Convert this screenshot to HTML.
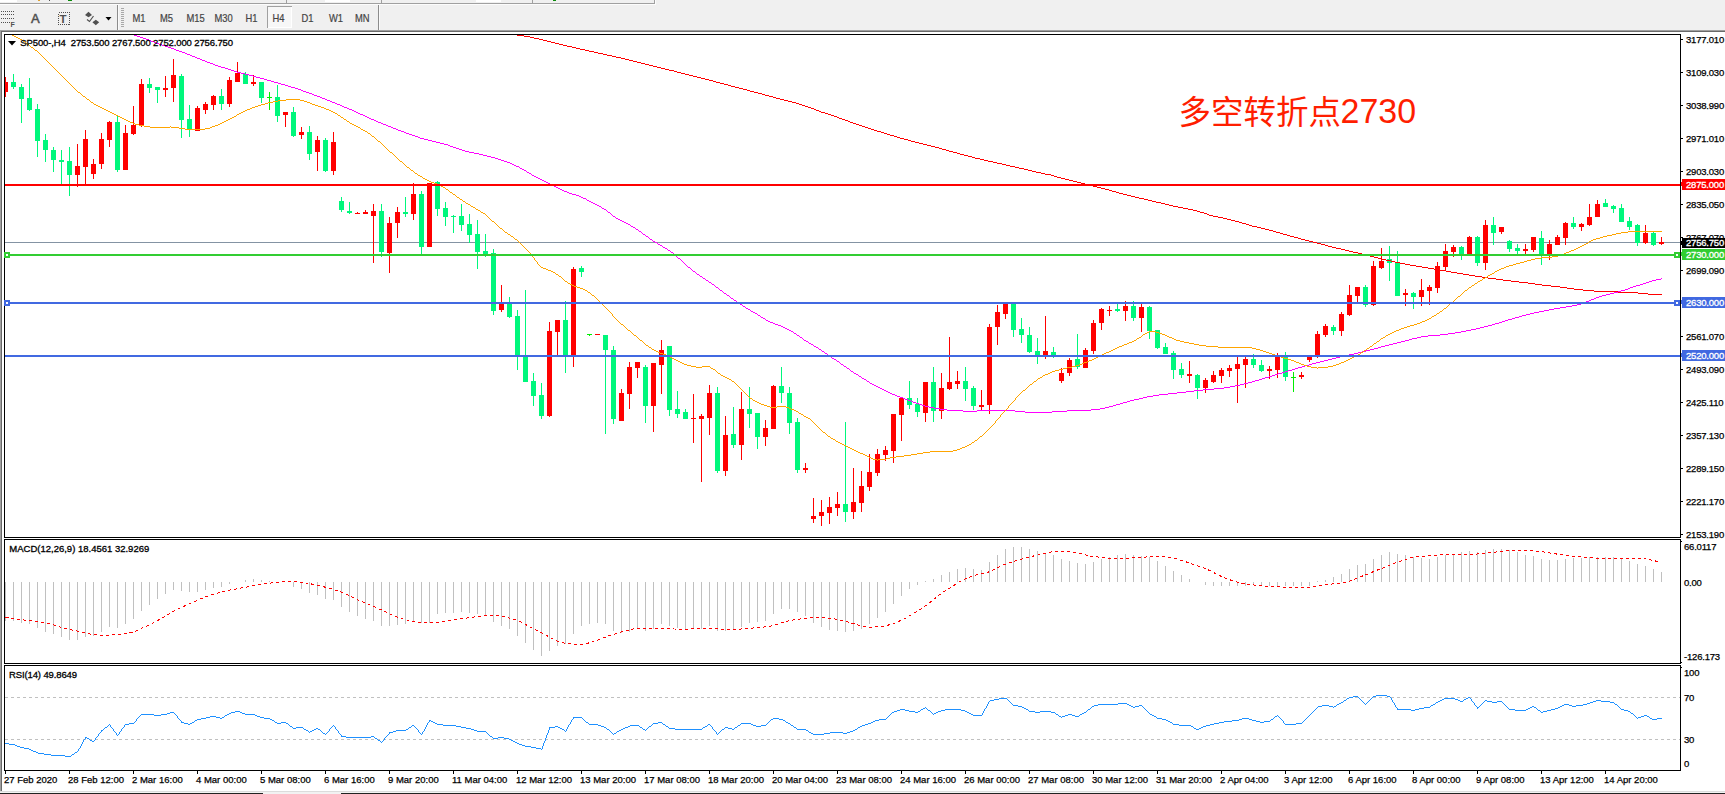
<!DOCTYPE html><html><head><meta charset="utf-8"><title>SP500 H4</title>
<style>html,body{margin:0;padding:0;background:#fff}body{width:1725px;height:794px;overflow:hidden}svg{display:block}text{font-family:"Liberation Sans","Noto Sans CJK SC",sans-serif}.tm{font-size:9.5px;fill:#000;stroke:#000;stroke-width:0.25px}.ax{font-size:9.5px;fill:#000;letter-spacing:-0.2px;stroke:#000;stroke-width:0.25px}.tb{font-size:10.2px;fill:#444;stroke:#444;stroke-width:0.2px}.info{font-size:9.5px;fill:#000;letter-spacing:-0.12px;stroke:#000;stroke-width:0.3px}.lb{font-size:9.5px;fill:#fff;letter-spacing:-0.2px;stroke:#fff;stroke-width:0.3px}</style></head><body>
<svg width="1725" height="794" viewBox="0 0 1725 794" shape-rendering="crispEdges">
<rect x="0" y="0" width="1725" height="794" fill="#fff"/>
<rect x="0" y="0" width="1725" height="30" fill="#f0f0f0"/>
<rect x="0" y="3" width="655" height="1" fill="#a0a0a0"/><rect x="0" y="4" width="656" height="1" fill="#fcfcfc"/><rect x="655" y="0" width="1" height="5" fill="#fcfcfc"/>
<rect x="0" y="0" width="17" height="2" fill="#fff"/><rect x="68" y="0" width="4" height="1" fill="#0a8a0a"/><rect x="38" y="0" width="2" height="1" fill="#e0a030"/><rect x="49" y="0" width="1" height="1" fill="#555"/>
<rect x="286" y="0" width="1" height="3" fill="#a0a0a0"/><rect x="325" y="0" width="25" height="2" fill="#fff"/><rect x="381" y="0" width="1" height="3" fill="#a0a0a0"/><rect x="476" y="0" width="25" height="2" fill="#fff"/><rect x="532" y="0" width="1" height="3" fill="#a0a0a0"/><rect x="553" y="0" width="3" height="1" fill="#0a8a0a"/><rect x="654" y="0" width="1" height="4" fill="#a0a0a0"/>
<rect x="0" y="30" width="1725" height="1" fill="#a0a0a0"/><rect x="0" y="31" width="1725" height="1" fill="#696969"/><rect x="0" y="30" width="1" height="764" fill="#a0a0a0"/><rect x="1" y="31" width="1" height="763" fill="#696969"/>
<rect x="0" y="791" width="1725" height="1" fill="#dcdcdc"/><rect x="0" y="792" width="1725" height="2" fill="#f2f2f2"/><rect x="0" y="793" width="263" height="1" fill="#222"/><rect x="341" y="793" width="1384" height="1" fill="#222"/>
<line x1="1" y1="11.5" x2="15" y2="11.5" stroke="#505050" stroke-width="1" stroke-dasharray="1 1"/>
<line x1="1" y1="14.5" x2="15" y2="14.5" stroke="#505050" stroke-width="1" stroke-dasharray="1 1"/>
<line x1="1" y1="18.5" x2="15" y2="18.5" stroke="#505050" stroke-width="1" stroke-dasharray="1 1"/>
<line x1="1" y1="22.5" x2="10" y2="22.5" stroke="#505050" stroke-width="1" stroke-dasharray="1 1"/>
<text x="10.5" y="26.5" style="font-size:7px;font-weight:bold" fill="#505050">F</text>
<text x="31" y="23" style="font-size:13px;stroke:#505050;stroke-width:0.5px" fill="#505050" shape-rendering="auto">A</text>
<rect x="58.5" y="12.5" width="11" height="12" fill="none" stroke="#505050" stroke-dasharray="1 1"/>
<text x="59.6" y="23" style="font-size:11.5px;font-weight:bold" fill="#505050" shape-rendering="auto">T</text>
<path d="M88.5 11.8 L92 15 L88.5 17.2 L85 15Z M95.8 19.8 L99.2 22.2 L95.8 25.2 L92.4 22.2Z" fill="#505050" shape-rendering="auto"/>
<path d="M87 19.5 L89.5 21.5 L93.5 16" fill="none" stroke="#505050" stroke-width="1.2" shape-rendering="auto"/>
<path d="M105.5 17 L111.5 17 L108.5 20.5Z" fill="#000" shape-rendering="auto"/>
<rect x="117" y="5" width="1" height="25" fill="#8c8c8c"/><rect x="118" y="5" width="1" height="25" fill="#fafafa"/>
<rect x="121" y="8" width="3" height="1" fill="#a8a8a8"/>
<rect x="121" y="10" width="3" height="1" fill="#a8a8a8"/>
<rect x="121" y="12" width="3" height="1" fill="#a8a8a8"/>
<rect x="121" y="14" width="3" height="1" fill="#a8a8a8"/>
<rect x="121" y="16" width="3" height="1" fill="#a8a8a8"/>
<rect x="121" y="18" width="3" height="1" fill="#a8a8a8"/>
<rect x="121" y="20" width="3" height="1" fill="#a8a8a8"/>
<rect x="121" y="22" width="3" height="1" fill="#a8a8a8"/>
<rect x="121" y="24" width="3" height="1" fill="#a8a8a8"/>
<rect x="121" y="26" width="3" height="1" fill="#a8a8a8"/>
<rect x="267" y="6" width="25" height="22" fill="#f7f7f7"/><rect x="267" y="6" width="25" height="1" fill="#a0a0a0"/><rect x="267" y="6" width="1" height="22" fill="#a0a0a0"/><rect x="291" y="7" width="1" height="21" fill="#fff"/><rect x="268" y="27" width="24" height="1" fill="#fff"/>
<text class="tb" transform="translate(132.5,21.7) scale(0.92,1)">M1</text>
<text class="tb" transform="translate(160,21.7) scale(0.92,1)">M5</text>
<text class="tb" transform="translate(186.5,21.7) scale(0.92,1)">M15</text>
<text class="tb" transform="translate(214.5,21.7) scale(0.92,1)">M30</text>
<text class="tb" transform="translate(245.5,21.7) scale(0.92,1)">H1</text>
<text class="tb" transform="translate(272.5,21.7) scale(0.92,1)">H4</text>
<text class="tb" transform="translate(301.5,21.7) scale(0.92,1)">D1</text>
<text class="tb" transform="translate(329,21.7) scale(0.92,1)">W1</text>
<text class="tb" transform="translate(355,21.7) scale(0.92,1)">MN</text>
<rect x="378" y="5" width="1" height="25" fill="#8c8c8c"/><rect x="379" y="5" width="1" height="25" fill="#fafafa"/>
<rect x="4" y="34" width="1677" height="1" fill="#000"/>
<rect x="4" y="34" width="1" height="504" fill="#000"/>
<rect x="1680" y="34" width="1" height="504" fill="#000"/>
<rect x="4" y="537" width="1677" height="1" fill="#000"/>
<rect x="4" y="539" width="1677" height="1" fill="#000"/>
<rect x="4" y="539" width="1" height="125" fill="#000"/>
<rect x="1680" y="539" width="1" height="125" fill="#000"/>
<rect x="4" y="663" width="1677" height="1" fill="#000"/>
<rect x="4" y="665" width="1677" height="1" fill="#000"/>
<rect x="4" y="665" width="1" height="106" fill="#000"/>
<rect x="1680" y="665" width="1" height="106" fill="#000"/>
<rect x="4" y="770" width="1677" height="1" fill="#000"/>
<clipPath id="cm"><rect x="5" y="35" width="1675" height="502"/></clipPath>
<g clip-path="url(#cm)">
<rect x="5" y="242" width="1675" height="1" fill="#8493a3"/>
<rect x="5" y="77" width="1" height="20" fill="#ff0000"/>
<rect x="3" y="82" width="5" height="10" fill="#ff0000"/>
<rect x="13" y="74" width="1" height="15" fill="#00f77c"/>
<rect x="11" y="82" width="5" height="5" fill="#00f77c"/>
<rect x="21" y="84" width="1" height="39" fill="#00f77c"/>
<rect x="19" y="87" width="5" height="12" fill="#00f77c"/>
<rect x="29" y="78" width="1" height="33" fill="#00f77c"/>
<rect x="27" y="98" width="5" height="12" fill="#00f77c"/>
<rect x="37" y="104" width="1" height="53" fill="#00f77c"/>
<rect x="35" y="109" width="5" height="32" fill="#00f77c"/>
<rect x="45" y="134" width="1" height="28" fill="#00f77c"/>
<rect x="43" y="140" width="5" height="10" fill="#00f77c"/>
<rect x="53" y="147" width="1" height="25" fill="#00f77c"/>
<rect x="51" y="150" width="5" height="10" fill="#00f77c"/>
<rect x="61" y="150" width="1" height="34" fill="#00f77c"/>
<rect x="59" y="160" width="5" height="2" fill="#00f77c"/>
<rect x="69" y="147" width="1" height="49" fill="#00f77c"/>
<rect x="67" y="161" width="5" height="14" fill="#00f77c"/>
<rect x="77" y="144" width="1" height="43" fill="#ff0000"/>
<rect x="75" y="166" width="5" height="9" fill="#ff0000"/>
<rect x="85" y="130" width="1" height="54" fill="#ff0000"/>
<rect x="83" y="139" width="5" height="28" fill="#ff0000"/>
<rect x="93" y="159" width="1" height="20" fill="#ff0000"/>
<rect x="91" y="164" width="5" height="10" fill="#ff0000"/>
<rect x="101" y="133" width="1" height="36" fill="#ff0000"/>
<rect x="99" y="139" width="5" height="25" fill="#ff0000"/>
<rect x="109" y="121" width="1" height="26" fill="#ff0000"/>
<rect x="107" y="122" width="5" height="18" fill="#ff0000"/>
<rect x="117" y="115" width="1" height="57" fill="#00f77c"/>
<rect x="115" y="122" width="5" height="48" fill="#00f77c"/>
<rect x="125" y="125" width="1" height="45" fill="#ff0000"/>
<rect x="123" y="133" width="5" height="37" fill="#ff0000"/>
<rect x="133" y="106" width="1" height="29" fill="#ff0000"/>
<rect x="131" y="125" width="5" height="9" fill="#ff0000"/>
<rect x="141" y="79" width="1" height="48" fill="#ff0000"/>
<rect x="139" y="84" width="5" height="41" fill="#ff0000"/>
<rect x="149" y="78" width="1" height="15" fill="#00f77c"/>
<rect x="147" y="84" width="5" height="4" fill="#00f77c"/>
<rect x="157" y="87" width="1" height="16" fill="#00f77c"/>
<rect x="155" y="87" width="5" height="3" fill="#00f77c"/>
<rect x="165" y="76" width="1" height="21" fill="#ff0000"/>
<rect x="163" y="88" width="5" height="2" fill="#ff0000"/>
<rect x="173" y="59" width="1" height="43" fill="#ff0000"/>
<rect x="171" y="75" width="5" height="13" fill="#ff0000"/>
<rect x="181" y="74" width="1" height="64" fill="#00f77c"/>
<rect x="179" y="76" width="5" height="44" fill="#00f77c"/>
<rect x="189" y="105" width="1" height="32" fill="#00f77c"/>
<rect x="187" y="119" width="5" height="10" fill="#00f77c"/>
<rect x="197" y="106" width="1" height="25" fill="#ff0000"/>
<rect x="195" y="108" width="5" height="23" fill="#ff0000"/>
<rect x="205" y="102" width="1" height="12" fill="#ff0000"/>
<rect x="203" y="104" width="5" height="6" fill="#ff0000"/>
<rect x="213" y="95" width="1" height="15" fill="#ff0000"/>
<rect x="211" y="96" width="5" height="9" fill="#ff0000"/>
<rect x="221" y="89" width="1" height="21" fill="#00f77c"/>
<rect x="219" y="96" width="5" height="8" fill="#00f77c"/>
<rect x="229" y="77" width="1" height="30" fill="#ff0000"/>
<rect x="227" y="80" width="5" height="24" fill="#ff0000"/>
<rect x="237" y="62" width="1" height="20" fill="#ff0000"/>
<rect x="235" y="73" width="5" height="9" fill="#ff0000"/>
<rect x="245" y="72" width="1" height="12" fill="#00f77c"/>
<rect x="243" y="74" width="5" height="10" fill="#00f77c"/>
<rect x="253" y="75" width="1" height="11" fill="#ff0000"/>
<rect x="251" y="82" width="5" height="2" fill="#ff0000"/>
<rect x="261" y="82" width="1" height="21" fill="#00f77c"/>
<rect x="259" y="82" width="5" height="16" fill="#00f77c"/>
<rect x="269" y="92" width="1" height="18" fill="#00ee00"/>
<rect x="267" y="97" width="5" height="1" fill="#00ee00"/>
<rect x="277" y="85" width="1" height="37" fill="#00f77c"/>
<rect x="275" y="97" width="5" height="19" fill="#00f77c"/>
<rect x="285" y="112" width="1" height="15" fill="#ff0000"/>
<rect x="283" y="112" width="5" height="3" fill="#ff0000"/>
<rect x="293" y="107" width="1" height="30" fill="#00f77c"/>
<rect x="291" y="112" width="5" height="24" fill="#00f77c"/>
<rect x="301" y="127" width="1" height="12" fill="#ff0000"/>
<rect x="299" y="132" width="5" height="3" fill="#ff0000"/>
<rect x="309" y="126" width="1" height="34" fill="#00f77c"/>
<rect x="307" y="132" width="5" height="22" fill="#00f77c"/>
<rect x="317" y="136" width="1" height="35" fill="#ff0000"/>
<rect x="315" y="140" width="5" height="12" fill="#ff0000"/>
<rect x="325" y="138" width="1" height="34" fill="#00f77c"/>
<rect x="323" y="140" width="5" height="31" fill="#00f77c"/>
<rect x="333" y="132" width="1" height="43" fill="#ff0000"/>
<rect x="331" y="142" width="5" height="29" fill="#ff0000"/>
<rect x="341" y="197" width="1" height="15" fill="#00f77c"/>
<rect x="339" y="201" width="5" height="9" fill="#00f77c"/>
<rect x="349" y="202" width="1" height="12" fill="#00f77c"/>
<rect x="347" y="211" width="5" height="2" fill="#00f77c"/>
<rect x="357" y="212" width="1" height="2" fill="#ff0000"/>
<rect x="355" y="213" width="5" height="1" fill="#ff0000"/>
<rect x="365" y="210" width="1" height="4" fill="#ff0000"/>
<rect x="363" y="212" width="5" height="2" fill="#ff0000"/>
<rect x="373" y="204" width="1" height="59" fill="#ff0000"/>
<rect x="371" y="211" width="5" height="5" fill="#ff0000"/>
<rect x="381" y="204" width="1" height="53" fill="#00f77c"/>
<rect x="379" y="211" width="5" height="41" fill="#00f77c"/>
<rect x="389" y="217" width="1" height="56" fill="#ff0000"/>
<rect x="387" y="223" width="5" height="30" fill="#ff0000"/>
<rect x="397" y="207" width="1" height="31" fill="#ff0000"/>
<rect x="395" y="212" width="5" height="11" fill="#ff0000"/>
<rect x="405" y="197" width="1" height="20" fill="#00f77c"/>
<rect x="403" y="212" width="5" height="2" fill="#00f77c"/>
<rect x="413" y="183" width="1" height="37" fill="#ff0000"/>
<rect x="411" y="194" width="5" height="20" fill="#ff0000"/>
<rect x="421" y="191" width="1" height="63" fill="#00f77c"/>
<rect x="419" y="194" width="5" height="53" fill="#00f77c"/>
<rect x="429" y="183" width="1" height="64" fill="#ff0000"/>
<rect x="427" y="183" width="5" height="64" fill="#ff0000"/>
<rect x="437" y="181" width="1" height="35" fill="#00f77c"/>
<rect x="435" y="182" width="5" height="27" fill="#00f77c"/>
<rect x="445" y="202" width="1" height="24" fill="#00f77c"/>
<rect x="443" y="208" width="5" height="9" fill="#00f77c"/>
<rect x="453" y="215" width="1" height="18" fill="#00f77c"/>
<rect x="451" y="216" width="5" height="1" fill="#00f77c"/>
<rect x="461" y="204" width="1" height="27" fill="#00f77c"/>
<rect x="459" y="216" width="5" height="9" fill="#00f77c"/>
<rect x="469" y="214" width="1" height="29" fill="#00f77c"/>
<rect x="467" y="224" width="5" height="11" fill="#00f77c"/>
<rect x="477" y="220" width="1" height="49" fill="#00f77c"/>
<rect x="475" y="234" width="5" height="18" fill="#00f77c"/>
<rect x="485" y="234" width="1" height="23" fill="#00f77c"/>
<rect x="483" y="251" width="5" height="4" fill="#00f77c"/>
<rect x="493" y="249" width="1" height="66" fill="#00f77c"/>
<rect x="491" y="253" width="5" height="58" fill="#00f77c"/>
<rect x="501" y="285" width="1" height="27" fill="#ff0000"/>
<rect x="499" y="304" width="5" height="6" fill="#ff0000"/>
<rect x="509" y="297" width="1" height="21" fill="#00f77c"/>
<rect x="507" y="304" width="5" height="13" fill="#00f77c"/>
<rect x="517" y="310" width="1" height="60" fill="#00f77c"/>
<rect x="515" y="316" width="5" height="39" fill="#00f77c"/>
<rect x="525" y="290" width="1" height="92" fill="#00f77c"/>
<rect x="523" y="355" width="5" height="27" fill="#00f77c"/>
<rect x="533" y="373" width="1" height="33" fill="#00f77c"/>
<rect x="531" y="381" width="5" height="15" fill="#00f77c"/>
<rect x="541" y="383" width="1" height="36" fill="#00f77c"/>
<rect x="539" y="395" width="5" height="21" fill="#00f77c"/>
<rect x="549" y="322" width="1" height="95" fill="#ff0000"/>
<rect x="547" y="331" width="5" height="85" fill="#ff0000"/>
<rect x="557" y="320" width="1" height="35" fill="#ff0000"/>
<rect x="555" y="320" width="5" height="12" fill="#ff0000"/>
<rect x="565" y="301" width="1" height="72" fill="#00f77c"/>
<rect x="563" y="320" width="5" height="36" fill="#00f77c"/>
<rect x="573" y="267" width="1" height="100" fill="#ff0000"/>
<rect x="571" y="269" width="5" height="87" fill="#ff0000"/>
<rect x="581" y="266" width="1" height="11" fill="#00f77c"/>
<rect x="579" y="268" width="5" height="4" fill="#00f77c"/>
<rect x="589" y="334" width="1" height="2" fill="#00ee00"/>
<rect x="587" y="334" width="5" height="1" fill="#00ee00"/>
<rect x="597" y="334" width="1" height="1" fill="#ff0000"/>
<rect x="595" y="334" width="5" height="1" fill="#ff0000"/>
<rect x="605" y="335" width="1" height="99" fill="#00f77c"/>
<rect x="603" y="335" width="5" height="15" fill="#00f77c"/>
<rect x="613" y="346" width="1" height="78" fill="#00f77c"/>
<rect x="611" y="350" width="5" height="69" fill="#00f77c"/>
<rect x="621" y="389" width="1" height="32" fill="#ff0000"/>
<rect x="619" y="393" width="5" height="28" fill="#ff0000"/>
<rect x="629" y="362" width="1" height="47" fill="#ff0000"/>
<rect x="627" y="367" width="5" height="27" fill="#ff0000"/>
<rect x="637" y="362" width="1" height="16" fill="#ff0000"/>
<rect x="635" y="362" width="5" height="6" fill="#ff0000"/>
<rect x="645" y="365" width="1" height="58" fill="#00f77c"/>
<rect x="643" y="367" width="5" height="39" fill="#00f77c"/>
<rect x="653" y="363" width="1" height="69" fill="#ff0000"/>
<rect x="651" y="363" width="5" height="43" fill="#ff0000"/>
<rect x="661" y="340" width="1" height="54" fill="#ff0000"/>
<rect x="659" y="350" width="5" height="15" fill="#ff0000"/>
<rect x="669" y="346" width="1" height="70" fill="#00f77c"/>
<rect x="667" y="346" width="5" height="64" fill="#00f77c"/>
<rect x="677" y="391" width="1" height="27" fill="#00f77c"/>
<rect x="675" y="409" width="5" height="5" fill="#00f77c"/>
<rect x="685" y="409" width="1" height="10" fill="#00f77c"/>
<rect x="683" y="412" width="5" height="7" fill="#00f77c"/>
<rect x="693" y="394" width="1" height="49" fill="#ff0000"/>
<rect x="691" y="418" width="5" height="1" fill="#ff0000"/>
<rect x="701" y="414" width="1" height="68" fill="#ff0000"/>
<rect x="699" y="416" width="5" height="3" fill="#ff0000"/>
<rect x="709" y="385" width="1" height="50" fill="#ff0000"/>
<rect x="707" y="393" width="5" height="25" fill="#ff0000"/>
<rect x="717" y="387" width="1" height="86" fill="#00f77c"/>
<rect x="715" y="393" width="5" height="78" fill="#00f77c"/>
<rect x="725" y="416" width="1" height="60" fill="#ff0000"/>
<rect x="723" y="435" width="5" height="36" fill="#ff0000"/>
<rect x="733" y="407" width="1" height="41" fill="#00f77c"/>
<rect x="731" y="434" width="5" height="11" fill="#00f77c"/>
<rect x="741" y="392" width="1" height="68" fill="#ff0000"/>
<rect x="739" y="409" width="5" height="36" fill="#ff0000"/>
<rect x="749" y="387" width="1" height="41" fill="#00f77c"/>
<rect x="747" y="409" width="5" height="5" fill="#00f77c"/>
<rect x="757" y="413" width="1" height="36" fill="#00f77c"/>
<rect x="755" y="413" width="5" height="24" fill="#00f77c"/>
<rect x="765" y="420" width="1" height="26" fill="#ff0000"/>
<rect x="763" y="428" width="5" height="9" fill="#ff0000"/>
<rect x="773" y="385" width="1" height="44" fill="#ff0000"/>
<rect x="771" y="386" width="5" height="43" fill="#ff0000"/>
<rect x="781" y="367" width="1" height="36" fill="#00f77c"/>
<rect x="779" y="386" width="5" height="7" fill="#00f77c"/>
<rect x="789" y="387" width="1" height="47" fill="#00f77c"/>
<rect x="787" y="393" width="5" height="30" fill="#00f77c"/>
<rect x="797" y="418" width="1" height="55" fill="#00f77c"/>
<rect x="795" y="422" width="5" height="48" fill="#00f77c"/>
<rect x="805" y="463" width="1" height="10" fill="#ff0000"/>
<rect x="803" y="468" width="5" height="2" fill="#ff0000"/>
<rect x="813" y="498" width="1" height="25" fill="#ff0000"/>
<rect x="811" y="516" width="5" height="3" fill="#ff0000"/>
<rect x="821" y="500" width="1" height="26" fill="#ff0000"/>
<rect x="819" y="512" width="5" height="4" fill="#ff0000"/>
<rect x="829" y="497" width="1" height="27" fill="#ff0000"/>
<rect x="827" y="507" width="5" height="6" fill="#ff0000"/>
<rect x="837" y="492" width="1" height="24" fill="#ff0000"/>
<rect x="835" y="504" width="5" height="4" fill="#ff0000"/>
<rect x="845" y="422" width="1" height="100" fill="#00f77c"/>
<rect x="843" y="504" width="5" height="8" fill="#00f77c"/>
<rect x="853" y="468" width="1" height="51" fill="#ff0000"/>
<rect x="851" y="502" width="5" height="10" fill="#ff0000"/>
<rect x="861" y="471" width="1" height="41" fill="#ff0000"/>
<rect x="859" y="486" width="5" height="17" fill="#ff0000"/>
<rect x="869" y="454" width="1" height="37" fill="#ff0000"/>
<rect x="867" y="472" width="5" height="15" fill="#ff0000"/>
<rect x="877" y="449" width="1" height="27" fill="#ff0000"/>
<rect x="875" y="454" width="5" height="19" fill="#ff0000"/>
<rect x="885" y="446" width="1" height="15" fill="#ff0000"/>
<rect x="883" y="450" width="5" height="5" fill="#ff0000"/>
<rect x="893" y="414" width="1" height="49" fill="#ff0000"/>
<rect x="891" y="414" width="5" height="37" fill="#ff0000"/>
<rect x="901" y="397" width="1" height="44" fill="#ff0000"/>
<rect x="899" y="398" width="5" height="17" fill="#ff0000"/>
<rect x="909" y="381" width="1" height="28" fill="#00f77c"/>
<rect x="907" y="398" width="5" height="7" fill="#00f77c"/>
<rect x="917" y="398" width="1" height="19" fill="#00f77c"/>
<rect x="915" y="404" width="5" height="8" fill="#00f77c"/>
<rect x="925" y="382" width="1" height="40" fill="#ff0000"/>
<rect x="923" y="382" width="5" height="31" fill="#ff0000"/>
<rect x="933" y="367" width="1" height="55" fill="#00f77c"/>
<rect x="931" y="382" width="5" height="29" fill="#00f77c"/>
<rect x="941" y="373" width="1" height="46" fill="#ff0000"/>
<rect x="939" y="388" width="5" height="23" fill="#ff0000"/>
<rect x="949" y="337" width="1" height="53" fill="#ff0000"/>
<rect x="947" y="382" width="5" height="7" fill="#ff0000"/>
<rect x="957" y="371" width="1" height="18" fill="#ff0000"/>
<rect x="955" y="381" width="5" height="3" fill="#ff0000"/>
<rect x="965" y="367" width="1" height="34" fill="#00f77c"/>
<rect x="963" y="381" width="5" height="8" fill="#00f77c"/>
<rect x="973" y="386" width="1" height="24" fill="#00f77c"/>
<rect x="971" y="388" width="5" height="18" fill="#00f77c"/>
<rect x="981" y="390" width="1" height="20" fill="#ff0000"/>
<rect x="979" y="405" width="5" height="2" fill="#ff0000"/>
<rect x="989" y="324" width="1" height="90" fill="#ff0000"/>
<rect x="987" y="327" width="5" height="78" fill="#ff0000"/>
<rect x="997" y="305" width="1" height="40" fill="#ff0000"/>
<rect x="995" y="312" width="5" height="15" fill="#ff0000"/>
<rect x="1005" y="303" width="1" height="16" fill="#ff0000"/>
<rect x="1003" y="303" width="5" height="11" fill="#ff0000"/>
<rect x="1013" y="303" width="1" height="34" fill="#00f77c"/>
<rect x="1011" y="303" width="5" height="27" fill="#00f77c"/>
<rect x="1021" y="318" width="1" height="25" fill="#00f77c"/>
<rect x="1019" y="329" width="5" height="6" fill="#00f77c"/>
<rect x="1029" y="327" width="1" height="26" fill="#00f77c"/>
<rect x="1027" y="335" width="5" height="17" fill="#00f77c"/>
<rect x="1037" y="338" width="1" height="26" fill="#00f77c"/>
<rect x="1035" y="351" width="5" height="4" fill="#00f77c"/>
<rect x="1045" y="316" width="1" height="43" fill="#ff0000"/>
<rect x="1043" y="351" width="5" height="4" fill="#ff0000"/>
<rect x="1053" y="347" width="1" height="11" fill="#00f77c"/>
<rect x="1051" y="352" width="5" height="3" fill="#00f77c"/>
<rect x="1061" y="368" width="1" height="15" fill="#ff0000"/>
<rect x="1059" y="373" width="5" height="8" fill="#ff0000"/>
<rect x="1069" y="358" width="1" height="18" fill="#ff0000"/>
<rect x="1067" y="360" width="5" height="13" fill="#ff0000"/>
<rect x="1077" y="334" width="1" height="35" fill="#00f77c"/>
<rect x="1075" y="359" width="5" height="8" fill="#00f77c"/>
<rect x="1085" y="348" width="1" height="20" fill="#ff0000"/>
<rect x="1083" y="350" width="5" height="18" fill="#ff0000"/>
<rect x="1093" y="320" width="1" height="34" fill="#ff0000"/>
<rect x="1091" y="323" width="5" height="28" fill="#ff0000"/>
<rect x="1101" y="308" width="1" height="22" fill="#ff0000"/>
<rect x="1099" y="309" width="5" height="14" fill="#ff0000"/>
<rect x="1109" y="306" width="1" height="10" fill="#ff0000"/>
<rect x="1107" y="310" width="5" height="1" fill="#ff0000"/>
<rect x="1117" y="303" width="1" height="9" fill="#00f77c"/>
<rect x="1115" y="309" width="5" height="2" fill="#00f77c"/>
<rect x="1125" y="301" width="1" height="20" fill="#ff0000"/>
<rect x="1123" y="306" width="5" height="5" fill="#ff0000"/>
<rect x="1133" y="301" width="1" height="20" fill="#00f77c"/>
<rect x="1131" y="306" width="5" height="12" fill="#00f77c"/>
<rect x="1141" y="303" width="1" height="29" fill="#ff0000"/>
<rect x="1139" y="307" width="5" height="11" fill="#ff0000"/>
<rect x="1149" y="306" width="1" height="33" fill="#00f77c"/>
<rect x="1147" y="307" width="5" height="24" fill="#00f77c"/>
<rect x="1157" y="330" width="1" height="19" fill="#00f77c"/>
<rect x="1155" y="330" width="5" height="18" fill="#00f77c"/>
<rect x="1165" y="343" width="1" height="11" fill="#00f77c"/>
<rect x="1163" y="347" width="5" height="7" fill="#00f77c"/>
<rect x="1173" y="351" width="1" height="28" fill="#00f77c"/>
<rect x="1171" y="353" width="5" height="17" fill="#00f77c"/>
<rect x="1181" y="363" width="1" height="15" fill="#00f77c"/>
<rect x="1179" y="369" width="5" height="6" fill="#00f77c"/>
<rect x="1189" y="361" width="1" height="22" fill="#ff0000"/>
<rect x="1187" y="374" width="5" height="2" fill="#ff0000"/>
<rect x="1197" y="374" width="1" height="25" fill="#00f77c"/>
<rect x="1195" y="375" width="5" height="13" fill="#00f77c"/>
<rect x="1205" y="378" width="1" height="15" fill="#ff0000"/>
<rect x="1203" y="380" width="5" height="8" fill="#ff0000"/>
<rect x="1213" y="371" width="1" height="12" fill="#ff0000"/>
<rect x="1211" y="375" width="5" height="7" fill="#ff0000"/>
<rect x="1221" y="368" width="1" height="15" fill="#ff0000"/>
<rect x="1219" y="370" width="5" height="6" fill="#ff0000"/>
<rect x="1229" y="365" width="1" height="12" fill="#ff0000"/>
<rect x="1227" y="368" width="5" height="3" fill="#ff0000"/>
<rect x="1237" y="356" width="1" height="47" fill="#ff0000"/>
<rect x="1235" y="364" width="5" height="5" fill="#ff0000"/>
<rect x="1245" y="356" width="1" height="32" fill="#ff0000"/>
<rect x="1243" y="359" width="5" height="6" fill="#ff0000"/>
<rect x="1253" y="354" width="1" height="14" fill="#00f77c"/>
<rect x="1251" y="359" width="5" height="6" fill="#00f77c"/>
<rect x="1261" y="360" width="1" height="12" fill="#00f77c"/>
<rect x="1259" y="365" width="5" height="6" fill="#00f77c"/>
<rect x="1269" y="366" width="1" height="13" fill="#ff0000"/>
<rect x="1267" y="369" width="5" height="2" fill="#ff0000"/>
<rect x="1277" y="353" width="1" height="25" fill="#ff0000"/>
<rect x="1275" y="356" width="5" height="14" fill="#ff0000"/>
<rect x="1285" y="352" width="1" height="29" fill="#00f77c"/>
<rect x="1283" y="357" width="5" height="20" fill="#00f77c"/>
<rect x="1293" y="372" width="1" height="20" fill="#00ee00"/>
<rect x="1291" y="377" width="5" height="1" fill="#00ee00"/>
<rect x="1301" y="372" width="1" height="7" fill="#ff0000"/>
<rect x="1299" y="375" width="5" height="2" fill="#ff0000"/>
<rect x="1309" y="357" width="1" height="5" fill="#ff0000"/>
<rect x="1307" y="357" width="5" height="3" fill="#ff0000"/>
<rect x="1317" y="331" width="1" height="27" fill="#ff0000"/>
<rect x="1315" y="334" width="5" height="23" fill="#ff0000"/>
<rect x="1325" y="324" width="1" height="13" fill="#ff0000"/>
<rect x="1323" y="326" width="5" height="9" fill="#ff0000"/>
<rect x="1333" y="325" width="1" height="10" fill="#00f77c"/>
<rect x="1331" y="327" width="5" height="4" fill="#00f77c"/>
<rect x="1341" y="312" width="1" height="24" fill="#ff0000"/>
<rect x="1339" y="314" width="5" height="17" fill="#ff0000"/>
<rect x="1349" y="285" width="1" height="31" fill="#ff0000"/>
<rect x="1347" y="295" width="5" height="20" fill="#ff0000"/>
<rect x="1357" y="287" width="1" height="15" fill="#ff0000"/>
<rect x="1355" y="287" width="5" height="9" fill="#ff0000"/>
<rect x="1365" y="285" width="1" height="22" fill="#00f77c"/>
<rect x="1363" y="287" width="5" height="18" fill="#00f77c"/>
<rect x="1373" y="261" width="1" height="45" fill="#ff0000"/>
<rect x="1371" y="266" width="5" height="39" fill="#ff0000"/>
<rect x="1381" y="248" width="1" height="21" fill="#ff0000"/>
<rect x="1379" y="261" width="5" height="7" fill="#ff0000"/>
<rect x="1389" y="246" width="1" height="35" fill="#00f77c"/>
<rect x="1387" y="259" width="5" height="4" fill="#00f77c"/>
<rect x="1397" y="251" width="1" height="45" fill="#00f77c"/>
<rect x="1395" y="263" width="5" height="33" fill="#00f77c"/>
<rect x="1405" y="289" width="1" height="17" fill="#ff0000"/>
<rect x="1403" y="293" width="5" height="2" fill="#ff0000"/>
<rect x="1413" y="292" width="1" height="17" fill="#00f77c"/>
<rect x="1411" y="293" width="5" height="4" fill="#00f77c"/>
<rect x="1421" y="279" width="1" height="27" fill="#ff0000"/>
<rect x="1419" y="290" width="5" height="7" fill="#ff0000"/>
<rect x="1429" y="285" width="1" height="20" fill="#ff0000"/>
<rect x="1427" y="287" width="5" height="4" fill="#ff0000"/>
<rect x="1437" y="262" width="1" height="31" fill="#ff0000"/>
<rect x="1435" y="266" width="5" height="22" fill="#ff0000"/>
<rect x="1445" y="244" width="1" height="26" fill="#ff0000"/>
<rect x="1443" y="251" width="5" height="16" fill="#ff0000"/>
<rect x="1453" y="245" width="1" height="12" fill="#ff0000"/>
<rect x="1451" y="247" width="5" height="5" fill="#ff0000"/>
<rect x="1461" y="246" width="1" height="14" fill="#00f77c"/>
<rect x="1459" y="247" width="5" height="8" fill="#00f77c"/>
<rect x="1469" y="236" width="1" height="19" fill="#ff0000"/>
<rect x="1467" y="237" width="5" height="18" fill="#ff0000"/>
<rect x="1477" y="236" width="1" height="30" fill="#00f77c"/>
<rect x="1475" y="237" width="5" height="26" fill="#00f77c"/>
<rect x="1485" y="220" width="1" height="50" fill="#ff0000"/>
<rect x="1483" y="225" width="5" height="38" fill="#ff0000"/>
<rect x="1493" y="217" width="1" height="28" fill="#00f77c"/>
<rect x="1491" y="225" width="5" height="8" fill="#00f77c"/>
<rect x="1501" y="227" width="1" height="7" fill="#ff0000"/>
<rect x="1499" y="227" width="5" height="5" fill="#ff0000"/>
<rect x="1509" y="240" width="1" height="12" fill="#00f77c"/>
<rect x="1507" y="241" width="5" height="8" fill="#00f77c"/>
<rect x="1517" y="244" width="1" height="10" fill="#00f77c"/>
<rect x="1515" y="248" width="5" height="3" fill="#00f77c"/>
<rect x="1525" y="244" width="1" height="10" fill="#ff0000"/>
<rect x="1523" y="249" width="5" height="2" fill="#ff0000"/>
<rect x="1533" y="237" width="1" height="15" fill="#ff0000"/>
<rect x="1531" y="237" width="5" height="13" fill="#ff0000"/>
<rect x="1541" y="231" width="1" height="34" fill="#00f77c"/>
<rect x="1539" y="238" width="5" height="17" fill="#00f77c"/>
<rect x="1549" y="240" width="1" height="20" fill="#ff0000"/>
<rect x="1547" y="244" width="5" height="11" fill="#ff0000"/>
<rect x="1557" y="235" width="1" height="10" fill="#ff0000"/>
<rect x="1555" y="237" width="5" height="8" fill="#ff0000"/>
<rect x="1565" y="222" width="1" height="23" fill="#ff0000"/>
<rect x="1563" y="223" width="5" height="15" fill="#ff0000"/>
<rect x="1573" y="217" width="1" height="12" fill="#00f77c"/>
<rect x="1571" y="223" width="5" height="4" fill="#00f77c"/>
<rect x="1581" y="223" width="1" height="8" fill="#ff0000"/>
<rect x="1579" y="224" width="5" height="3" fill="#ff0000"/>
<rect x="1589" y="204" width="1" height="22" fill="#ff0000"/>
<rect x="1587" y="217" width="5" height="8" fill="#ff0000"/>
<rect x="1597" y="200" width="1" height="17" fill="#ff0000"/>
<rect x="1595" y="204" width="5" height="13" fill="#ff0000"/>
<rect x="1605" y="199" width="1" height="8" fill="#00f77c"/>
<rect x="1603" y="203" width="5" height="4" fill="#00f77c"/>
<rect x="1613" y="205" width="1" height="8" fill="#00f77c"/>
<rect x="1611" y="206" width="5" height="3" fill="#00f77c"/>
<rect x="1621" y="204" width="1" height="18" fill="#00f77c"/>
<rect x="1619" y="208" width="5" height="14" fill="#00f77c"/>
<rect x="1629" y="217" width="1" height="13" fill="#00f77c"/>
<rect x="1627" y="221" width="5" height="6" fill="#00f77c"/>
<rect x="1637" y="224" width="1" height="22" fill="#00f77c"/>
<rect x="1635" y="225" width="5" height="18" fill="#00f77c"/>
<rect x="1645" y="225" width="1" height="19" fill="#ff0000"/>
<rect x="1643" y="233" width="5" height="10" fill="#ff0000"/>
<rect x="1653" y="232" width="1" height="14" fill="#00f77c"/>
<rect x="1651" y="233" width="5" height="12" fill="#00f77c"/>
<rect x="1661" y="237" width="1" height="8" fill="#ff0000"/>
<rect x="1659" y="242" width="5" height="2" fill="#ff0000"/>
<path d="M514 34v1M515 34v1M516 34v1M517 35v1M518 35v1M519 35v1M520 35v1M521 35v1M522 35v1M523 35v1M524 36v1M525 36v1M526 36v1M527 36v1M528 36v1M529 36v1M530 37v1M531 37v1M532 37v1M533 37v1M534 38v1M535 38v1M536 38v1M537 38v1M538 38v1M539 39v1M540 39v1M541 39v1M542 39v1M543 40v1M544 40v1M545 40v1M546 40v1M547 41v1M548 41v1M549 41v1M550 41v1M551 42v1M552 42v1M553 42v1M554 42v1M555 43v1M556 43v1M557 43v1M558 43v1M559 44v1M560 44v1M561 44v1M562 44v1M563 45v1M564 45v1M565 45v1M566 45v1M567 46v1M568 46v1M569 46v1M570 46v1M571 46v1M572 47v1M573 47v1M574 47v1M575 47v1M576 48v1M577 48v1M578 48v1M579 48v1M580 49v1M581 49v1M582 49v1M583 49v1M584 49v1M585 50v1M586 50v1M587 50v1M588 50v1M589 51v1M590 51v1M591 51v1M592 51v1M593 51v1M594 52v1M595 52v1M596 52v1M597 52v1M598 53v1M599 53v1M600 53v1M601 53v1M602 53v1M603 54v1M604 54v1M605 54v1M606 54v1M607 55v1M608 55v1M609 55v1M610 55v1M611 55v1M612 56v1M613 56v1M614 56v1M615 56v1M616 57v1M617 57v1M618 57v1M619 57v1M620 57v1M621 58v1M622 58v1M623 58v1M624 58v1M625 59v1M626 59v1M627 59v1M628 59v1M629 60v1M630 60v1M631 60v1M632 60v1M633 61v1M634 61v1M635 61v1M636 61v1M637 62v1M638 62v1M639 62v1M640 62v1M641 63v1M642 63v1M643 63v1M644 63v1M645 64v1M646 64v1M647 64v1M648 64v1M649 65v1M650 65v1M651 65v1M652 65v1M653 66v1M654 66v1M655 66v1M656 66v1M657 67v1M658 67v1M659 67v1M660 67v1M661 68v1M662 68v1M663 68v1M664 68v1M665 69v1M666 69v1M667 69v1M668 69v1M669 70v1M670 70v1M671 70v1M672 70v1M673 70v1M674 71v1M675 71v1M676 71v1M677 72v1M678 72v1M679 72v1M680 72v1M681 73v1M682 73v1M683 73v1M684 73v1M685 74v1M686 74v1M687 74v1M688 74v1M689 75v1M690 75v1M691 75v1M692 75v1M693 76v1M694 76v1M695 76v1M696 76v1M697 77v1M698 77v1M699 77v1M700 77v1M701 78v1M702 78v1M703 78v1M704 78v1M705 79v1M706 79v1M707 79v1M708 79v1M709 80v1M710 80v1M711 80v1M712 80v1M713 81v1M714 81v1M715 81v1M716 82v1M717 82v1M718 82v1M719 82v1M720 83v1M721 83v1M722 83v1M723 83v1M724 84v1M725 84v1M726 84v1M727 84v1M728 85v1M729 85v1M730 85v1M731 86v1M732 86v1M733 86v1M734 86v1M735 87v1M736 87v1M737 87v1M738 87v1M739 88v1M740 88v1M741 88v1M742 88v1M743 89v1M744 89v1M745 89v1M746 89v1M747 90v1M748 90v1M749 90v1M750 91v1M751 91v1M752 91v1M753 91v1M754 92v1M755 92v1M756 92v1M757 92v1M758 93v1M759 93v1M760 93v1M761 93v1M762 94v1M763 94v1M764 94v1M765 95v1M766 95v1M767 95v1M768 95v1M769 96v1M770 96v1M771 96v1M772 96v1M773 97v1M774 97v1M775 97v1M776 98v1M777 98v1M778 98v1M779 98v1M780 99v1M781 99v1M782 99v1M783 99v1M784 100v1M785 100v1M786 100v1M787 100v1M788 101v1M789 101v1M790 101v1M791 101v1M792 102v1M793 102v1M794 102v1M795 102v1M796 103v1M797 103v1M798 103v1M799 104v1M800 104v1M801 104v1M802 105v1M803 105v1M804 105v1M805 106v1M806 106v1M807 106v1M808 107v1M809 107v1M810 107v1M811 108v1M812 108v1M813 108v1M814 109v1M815 109v1M816 110v1M817 110v1M818 110v1M819 111v1M820 111v1M821 112v1M822 112v1M823 112v1M824 112v1M825 113v1M826 113v1M827 113v1M828 114v1M829 114v1M830 114v1M831 115v1M832 115v1M833 115v1M834 116v1M835 116v1M836 116v1M837 117v1M838 117v1M839 118v1M840 118v1M841 118v1M842 119v1M843 119v1M844 119v1M845 120v1M846 120v1M847 120v1M848 121v1M849 121v1M850 122v1M851 122v1M852 122v1M853 123v1M854 123v1M855 123v1M856 124v1M857 124v1M858 124v1M859 125v1M860 125v1M861 125v1M862 126v1M863 126v1M864 126v1M865 127v1M866 127v1M867 127v1M868 128v1M869 128v1M870 128v1M871 129v1M872 129v1M873 129v1M874 130v1M875 130v1M876 130v1M877 131v1M878 131v1M879 131v1M880 131v1M881 132v1M882 132v1M883 132v1M884 133v1M885 133v1M886 133v1M887 134v1M888 134v1M889 134v1M890 135v1M891 135v1M892 135v1M893 135v1M894 136v1M895 136v1M896 136v1M897 137v1M898 137v1M899 137v1M900 138v1M901 138v1M902 138v1M903 138v1M904 139v1M905 139v1M906 139v1M907 139v1M908 140v1M909 140v1M910 140v1M911 141v1M912 141v1M913 141v1M914 141v1M915 142v1M916 142v1M917 142v1M918 142v1M919 143v1M920 143v1M921 143v1M922 143v1M923 144v1M924 144v1M925 144v1M926 144v1M927 145v1M928 145v1M929 145v1M930 145v1M931 146v1M932 146v1M933 146v1M934 146v1M935 147v1M936 147v1M937 147v1M938 147v1M939 148v1M940 148v1M941 148v1M942 149v1M943 149v1M944 149v1M945 149v1M946 150v1M947 150v1M948 150v1M949 151v1M950 151v1M951 151v1M952 151v1M953 152v1M954 152v1M955 152v1M956 152v1M957 153v1M958 153v1M959 153v1M960 154v1M961 154v1M962 154v1M963 154v1M964 155v1M965 155v1M966 155v1M967 155v1M968 156v1M969 156v1M970 156v1M971 156v1M972 157v1M973 157v1M974 157v1M975 158v1M976 158v1M977 158v1M978 158v1M979 158v1M980 159v1M981 159v1M982 159v1M983 159v1M984 160v1M985 160v1M986 160v1M987 160v1M988 161v1M989 161v1M990 161v1M991 161v1M992 161v1M993 162v1M994 162v1M995 162v1M996 162v1M997 163v1M998 163v1M999 163v1M1000 163v1M1001 163v1M1002 164v1M1003 164v1M1004 164v1M1005 164v1M1006 165v1M1007 165v1M1008 165v1M1009 165v1M1010 166v1M1011 166v1M1012 166v1M1013 166v1M1014 166v1M1015 167v1M1016 167v1M1017 167v1M1018 167v1M1019 168v1M1020 168v1M1021 168v1M1022 168v1M1023 168v1M1024 169v1M1025 169v1M1026 169v1M1027 169v1M1028 170v1M1029 170v1M1030 170v1M1031 170v1M1032 171v1M1033 171v1M1034 171v1M1035 171v1M1036 172v1M1037 172v1M1038 172v1M1039 172v1M1040 172v1M1041 173v1M1042 173v1M1043 173v1M1044 173v1M1045 174v1M1046 174v1M1047 174v1M1048 174v1M1049 174v1M1050 174v1M1051 175v1M1052 175v1M1053 175v1M1054 176v1M1055 176v1M1056 176v1M1057 177v1M1058 177v1M1059 177v1M1060 177v1M1061 178v1M1062 178v1M1063 178v1M1064 178v1M1065 179v1M1066 179v1M1067 179v1M1068 179v1M1069 180v1M1070 180v1M1071 180v1M1072 180v1M1073 181v1M1074 181v1M1075 181v1M1076 181v1M1077 182v1M1078 182v1M1079 182v1M1080 182v1M1081 183v1M1082 183v1M1083 183v1M1084 183v1M1085 184v1M1086 184v1M1087 184v1M1088 184v1M1089 185v1M1090 185v1M1091 185v1M1092 185v1M1093 186v1M1094 186v1M1095 186v1M1096 186v1M1097 187v1M1098 187v1M1099 187v1M1100 187v1M1101 188v1M1102 188v1M1103 188v1M1104 188v1M1105 189v1M1106 189v1M1107 189v1M1108 189v1M1109 190v1M1110 190v1M1111 190v1M1112 191v1M1113 191v1M1114 191v1M1115 191v1M1116 192v1M1117 192v1M1118 192v1M1119 193v1M1120 193v1M1121 193v1M1122 193v1M1123 194v1M1124 194v1M1125 194v1M1126 194v1M1127 195v1M1128 195v1M1129 195v1M1130 195v1M1131 196v1M1132 196v1M1133 196v1M1134 196v1M1135 197v1M1136 197v1M1137 197v1M1138 197v1M1139 198v1M1140 198v1M1141 198v1M1142 198v1M1143 198v1M1144 199v1M1145 199v1M1146 199v1M1147 199v1M1148 200v1M1149 200v1M1150 200v1M1151 200v1M1152 201v1M1153 201v1M1154 201v1M1155 201v1M1156 202v1M1157 202v1M1158 202v1M1159 202v1M1160 202v1M1161 203v1M1162 203v1M1163 203v1M1164 203v1M1165 204v1M1166 204v1M1167 204v1M1168 204v1M1169 205v1M1170 205v1M1171 205v1M1172 205v1M1173 206v1M1174 206v1M1175 206v1M1176 206v1M1177 206v1M1178 207v1M1179 207v1M1180 207v1M1181 207v1M1182 207v1M1183 208v1M1184 208v1M1185 208v1M1186 208v1M1187 208v1M1188 209v1M1189 209v1M1190 209v1M1191 209v1M1192 209v1M1193 210v1M1194 210v1M1195 210v1M1196 210v1M1197 211v1M1198 211v1M1199 211v1M1200 212v1M1201 212v1M1202 212v1M1203 212v1M1204 213v1M1205 213v1M1206 213v1M1207 214v1M1208 214v1M1209 215v1M1210 215v1M1211 215v1M1212 215v1M1213 216v1M1214 216v1M1215 216v1M1216 216v1M1217 216v1M1218 217v1M1219 217v1M1220 217v1M1221 217v1M1222 217v1M1223 218v1M1224 218v1M1225 218v1M1226 218v1M1227 219v1M1228 219v1M1229 219v1M1230 219v1M1231 220v1M1232 220v1M1233 220v1M1234 220v1M1235 221v1M1236 221v1M1237 221v1M1238 221v1M1239 222v1M1240 222v1M1241 222v1M1242 223v1M1243 223v1M1244 223v1M1245 223v1M1246 224v1M1247 224v1M1248 224v1M1249 225v1M1250 225v1M1251 225v1M1252 226v1M1253 226v1M1254 226v1M1255 226v1M1256 226v1M1257 227v1M1258 227v1M1259 227v1M1260 227v1M1261 228v1M1262 228v1M1263 228v1M1264 228v1M1265 229v1M1266 229v1M1267 229v1M1268 229v1M1269 230v1M1270 230v1M1271 230v1M1272 230v1M1273 231v1M1274 231v1M1275 231v1M1276 232v1M1277 232v1M1278 232v1M1279 232v1M1280 233v1M1281 233v1M1282 233v1M1283 234v1M1284 234v1M1285 234v1M1286 234v1M1287 235v1M1288 235v1M1289 235v1M1290 236v1M1291 236v1M1292 236v1M1293 236v1M1294 237v1M1295 237v1M1296 237v1M1297 237v1M1298 238v1M1299 238v1M1300 238v1M1301 239v1M1302 239v1M1303 239v1M1304 239v1M1305 240v1M1306 240v1M1307 240v1M1308 240v1M1309 241v1M1310 241v1M1311 241v1M1312 241v1M1313 242v1M1314 242v1M1315 242v1M1316 242v1M1317 243v1M1318 243v1M1319 243v1M1320 243v1M1321 244v1M1322 244v1M1323 244v1M1324 244v1M1325 245v1M1326 245v1M1327 245v1M1328 246v1M1329 246v1M1330 246v1M1331 246v1M1332 247v1M1333 247v1M1334 247v1M1335 247v1M1336 248v1M1337 248v1M1338 248v1M1339 248v1M1340 248v1M1341 249v1M1342 249v1M1343 249v1M1344 249v1M1345 250v1M1346 250v1M1347 250v1M1348 250v1M1349 251v1M1350 251v1M1351 251v1M1352 251v1M1353 252v1M1354 252v1M1355 252v1M1356 252v1M1357 252v1M1358 253v1M1359 253v1M1360 253v1M1361 253v1M1362 254v1M1363 254v1M1364 254v1M1365 254v1M1366 255v1M1367 255v1M1368 255v1M1369 255v1M1370 256v1M1371 256v1M1372 256v1M1373 256v1M1374 257v1M1375 257v1M1376 257v1M1377 257v1M1378 258v1M1379 258v1M1380 258v1M1381 258v1M1382 259v1M1383 259v1M1384 259v1M1385 259v1M1386 260v1M1387 260v1M1388 260v1M1389 260v1M1390 260v1M1391 261v1M1392 261v1M1393 261v1M1394 261v1M1395 262v1M1396 262v1M1397 262v1M1398 262v1M1399 262v1M1400 263v1M1401 263v1M1402 263v1M1403 263v1M1404 263v1M1405 264v1M1406 264v1M1407 264v1M1408 264v1M1409 264v1M1410 265v1M1411 265v1M1412 265v1M1413 265v1M1414 265v1M1415 265v1M1416 266v1M1417 266v1M1418 266v1M1419 266v1M1420 266v1M1421 266v1M1422 267v1M1423 267v1M1424 267v1M1425 267v1M1426 267v1M1427 267v1M1428 268v1M1429 268v1M1430 268v1M1431 268v1M1432 268v1M1433 268v1M1434 269v1M1435 269v1M1436 269v1M1437 269v1M1438 269v1M1439 269v1M1440 270v1M1441 270v1M1442 270v1M1443 270v1M1444 270v1M1445 270v1M1446 271v1M1447 271v1M1448 271v1M1449 271v1M1450 271v1M1451 272v1M1452 272v1M1453 272v1M1454 272v1M1455 272v1M1456 272v1M1457 273v1M1458 273v1M1459 273v1M1460 273v1M1461 273v1M1462 273v1M1463 274v1M1464 274v1M1465 274v1M1466 274v1M1467 274v1M1468 274v1M1469 275v1M1470 275v1M1471 275v1M1472 275v1M1473 275v1M1474 275v1M1475 276v1M1476 276v1M1477 276v1M1478 276v1M1479 276v1M1480 276v1M1481 276v1M1482 277v1M1483 277v1M1484 277v1M1485 277v1M1486 277v1M1487 277v1M1488 278v1M1489 278v1M1490 278v1M1491 278v1M1492 278v1M1493 278v1M1494 278v1M1495 278v1M1496 279v1M1497 279v1M1498 279v1M1499 279v1M1500 279v1M1501 279v1M1502 279v1M1503 280v1M1504 280v1M1505 280v1M1506 280v1M1507 280v1M1508 280v1M1509 280v1M1510 280v1M1511 281v1M1512 281v1M1513 281v1M1514 281v1M1515 281v1M1516 281v1M1517 281v1M1518 281v1M1519 282v1M1520 282v1M1521 282v1M1522 282v1M1523 282v1M1524 282v1M1525 282v1M1526 282v1M1527 282v1M1528 283v1M1529 283v1M1530 283v1M1531 283v1M1532 283v1M1533 283v1M1534 283v1M1535 284v1M1536 284v1M1537 284v1M1538 284v1M1539 284v1M1540 284v1M1541 284v1M1542 285v1M1543 285v1M1544 285v1M1545 285v1M1546 285v1M1547 285v1M1548 285v1M1549 285v1M1550 285v1M1551 286v1M1552 286v1M1553 286v1M1554 286v1M1555 286v1M1556 286v1M1557 286v1M1558 286v1M1559 286v1M1560 287v1M1561 287v1M1562 287v1M1563 287v1M1564 287v1M1565 287v1M1566 287v1M1567 288v1M1568 288v1M1569 288v1M1570 288v1M1571 288v1M1572 288v1M1573 288v1M1574 289v1M1575 289v1M1576 289v1M1577 289v1M1578 289v1M1579 289v1M1580 289v1M1581 289v1M1582 289v1M1583 290v1M1584 290v1M1585 290v1M1586 290v1M1587 290v1M1588 290v1M1589 290v1M1590 290v1M1591 290v1M1592 290v1M1593 290v1M1594 291v1M1595 291v1M1596 291v1M1597 291v1M1598 291v1M1599 291v1M1600 291v1M1601 291v1M1602 291v1M1603 291v1M1604 291v1M1605 291v1M1606 291v1M1607 291v1M1608 291v1M1609 291v1M1610 291v1M1611 291v1M1612 291v1M1613 291v1M1614 291v1M1615 291v1M1616 291v1M1617 291v1M1618 292v1M1619 292v1M1620 292v1M1621 292v1M1622 292v1M1623 292v1M1624 292v1M1625 292v1M1626 292v1M1627 292v1M1628 292v1M1629 292v1M1630 292v1M1631 292v1M1632 292v1M1633 292v1M1634 292v1M1635 292v1M1636 292v1M1637 292v1M1638 293v1M1639 293v1M1640 293v1M1641 293v1M1642 293v1M1643 293v1M1644 293v1M1645 293v1M1646 293v1M1647 293v1M1648 294v1M1649 294v1M1650 294v1M1651 294v1M1652 294v1M1653 294v1M1654 294v1M1655 294v1M1656 294v1M1657 294v1M1658 294v1M1659 294v1M1660 294v1M1661 294v1" fill="none" stroke="#ff0000" stroke-width="1" transform="translate(0.5,0)"/>
<path d="M132 34v1M133 34v1M134 35v1M135 35v1M136 35v1M137 36v1M138 36v1M139 36v1M140 37v1M141 37v1M142 37v1M143 38v1M144 38v1M145 38v1M146 39v1M147 39v1M148 39v1M149 40v1M150 40v1M151 41v1M152 41v1M153 41v1M154 42v1M155 42v1M156 43v1M157 43v1M158 43v1M159 44v1M160 44v1M161 44v1M162 45v1M163 45v1M164 45v1M165 46v1M166 46v1M167 46v1M168 47v1M169 47v1M170 47v1M171 48v1M172 48v1M173 48v1M174 49v1M175 49v1M176 50v1M177 50v1M178 50v1M179 51v1M180 51v1M181 51v1M182 52v1M183 52v1M184 52v1M185 53v1M186 53v1M187 54v1M188 54v1M189 54v1M190 55v1M191 55v1M192 56v1M193 56v1M194 56v1M195 57v1M196 57v1M197 58v1M198 58v1M199 58v1M200 59v1M201 59v1M202 60v1M203 60v1M204 60v1M205 61v1M206 61v1M207 62v1M208 62v1M209 62v1M210 63v1M211 63v1M212 63v1M213 64v1M214 64v1M215 65v1M216 65v1M217 65v1M218 66v1M219 66v1M220 66v1M221 67v1M222 67v1M223 67v1M224 67v1M225 68v1M226 68v1M227 68v1M228 69v1M229 69v1M230 69v1M231 70v1M232 70v1M233 70v1M234 71v1M235 71v1M236 71v1M237 72v1M238 72v1M239 72v1M240 72v1M241 73v1M242 73v1M243 73v1M244 73v1M245 74v1M246 74v1M247 74v1M248 74v1M249 75v1M250 75v1M251 75v1M252 75v1M253 76v1M254 76v1M255 76v1M256 77v1M257 77v1M258 77v1M259 77v1M260 78v1M261 78v1M262 78v1M263 78v1M264 79v1M265 79v1M266 79v1M267 80v1M268 80v1M269 80v1M270 80v1M271 81v1M272 81v1M273 81v1M274 82v1M275 82v1M276 82v1M277 82v1M278 83v1M279 83v1M280 83v1M281 84v1M282 84v1M283 84v1M284 84v1M285 85v1M286 85v1M287 85v1M288 86v1M289 86v1M290 86v1M291 87v1M292 87v1M293 87v1M294 87v1M295 88v1M296 88v1M297 88v1M298 89v1M299 89v1M300 89v1M301 90v1M302 90v1M303 91v1M304 91v1M305 91v1M306 92v1M307 92v1M308 92v1M309 93v1M310 93v1M311 93v1M312 94v1M313 94v1M314 95v1M315 95v1M316 95v1M317 96v1M318 96v1M319 96v1M320 97v1M321 97v1M322 98v1M323 98v1M324 98v1M325 99v1M326 99v1M327 100v1M328 100v1M329 100v1M330 101v1M331 101v1M332 102v1M333 102v1M334 102v1M335 103v1M336 103v1M337 104v1M338 104v1M339 104v1M340 105v1M341 105v1M342 106v1M343 106v1M344 107v1M345 107v1M346 107v1M347 108v1M348 108v1M349 109v1M350 109v1M351 109v1M352 110v1M353 110v1M354 111v1M355 111v1M356 112v1M357 112v1M358 113v1M359 113v1M360 114v1M361 114v1M362 114v1M363 115v1M364 115v1M365 116v1M366 116v1M367 117v1M368 117v1M369 118v1M370 118v1M371 119v1M372 119v1M373 119v1M374 120v1M375 120v1M376 121v1M377 121v1M378 122v1M379 122v1M380 122v1M381 123v1M382 123v1M383 124v1M384 124v1M385 124v1M386 125v1M387 125v1M388 126v1M389 126v1M390 126v1M391 127v1M392 127v1M393 128v1M394 128v1M395 128v1M396 129v1M397 129v1M398 130v1M399 130v1M400 130v1M401 131v1M402 131v1M403 131v1M404 132v1M405 132v1M406 133v1M407 133v1M408 133v1M409 134v1M410 134v1M411 134v1M412 135v1M413 135v1M414 135v1M415 136v1M416 136v1M417 136v1M418 137v1M419 137v1M420 138v1M421 138v1M422 138v1M423 138v1M424 139v1M425 139v1M426 139v1M427 139v1M428 140v1M429 140v1M430 140v1M431 140v1M432 141v1M433 141v1M434 141v1M435 141v1M436 142v1M437 142v1M438 142v1M439 142v1M440 143v1M441 143v1M442 143v1M443 143v1M444 144v1M445 144v1M446 144v1M447 144v1M448 145v1M449 145v1M450 146v1M451 146v1M452 146v1M453 147v1M454 147v1M455 147v1M456 148v1M457 148v1M458 148v1M459 149v1M460 149v1M461 149v1M462 150v1M463 150v1M464 150v1M465 151v1M466 151v1M467 151v1M468 151v1M469 152v1M470 152v1M471 152v1M472 152v1M473 152v1M474 153v1M475 153v1M476 153v1M477 153v1M478 153v1M479 154v1M480 154v1M481 154v1M482 154v1M483 155v1M484 155v1M485 155v1M486 155v1M487 156v1M488 156v1M489 156v1M490 156v1M491 157v1M492 157v1M493 157v1M494 157v1M495 158v1M496 158v1M497 158v1M498 159v1M499 159v1M500 159v1M501 160v1M502 160v1M503 160v1M504 161v1M505 161v1M506 161v1M507 162v1M508 162v1M509 162v1M510 163v1M511 163v1M512 164v1M513 164v1M514 165v1M515 165v1M516 166v1M517 166v1M518 166v1M519 167v1M520 168v1M521 168v1M522 169v1M523 169v1M524 170v1M525 170v1M526 171v1M527 172v1M528 172v1M529 173v1M530 173v1M531 174v1M532 175v1M533 175v1M534 176v1M535 176v1M536 177v1M537 177v1M538 178v1M539 178v1M540 179v1M541 179v1M542 180v1M543 180v1M544 181v1M545 181v1M546 182v1M547 182v1M548 183v1M549 183v1M550 184v1M551 184v1M552 185v1M553 185v1M554 186v1M555 186v1M556 187v1M557 187v1M558 188v1M559 188v1M560 189v1M561 189v1M562 190v1M563 190v1M564 191v1M565 191v1M566 191v1M567 192v1M568 192v1M569 193v1M570 193v1M571 193v1M572 194v1M573 194v1M574 194v1M575 194v1M576 195v1M577 195v1M578 195v1M579 196v1M580 196v1M581 197v1M582 197v1M583 198v1M584 198v1M585 198v1M586 199v1M587 200v1M588 200v1M589 201v1M590 201v1M591 202v1M592 202v1M593 203v1M594 203v1M595 204v1M596 204v1M597 205v1M598 205v1M599 206v1M600 206v1M601 207v1M602 208v1M603 208v1M604 209v1M605 209v1M606 210v1M607 211v1M608 212v1M609 212v1M610 213v1M611 214v1M612 215v1M613 216v1M614 216v1M615 217v1M616 218v1M617 218v1M618 219v1M619 219v1M620 220v1M621 220v1M622 221v1M623 221v1M624 222v1M625 222v1M626 223v1M627 223v1M628 224v1M629 224v1M630 225v1M631 226v1M632 226v1M633 227v1M634 227v1M635 228v1M636 229v1M637 229v1M638 230v1M639 231v1M640 231v1M641 232v1M642 233v1M643 234v1M644 234v1M645 235v1M646 236v1M647 236v1M648 237v1M649 238v1M650 239v1M651 239v1M652 240v1M653 241v1M654 241v1M655 242v1M656 242v1M657 243v1M658 244v1M659 244v1M660 245v1M661 245v1M662 246v1M663 247v1M664 247v1M665 248v1M666 248v1M667 249v1M668 250v1M669 250v1M670 251v1M671 252v1M672 252v1M673 253v1M674 254v1M675 255v1M676 256v1M677 257v1M678 258v1M679 258v1M680 259v1M681 260v1M682 261v1M683 262v1M684 263v1M685 264v1M686 265v1M687 266v1M688 267v1M689 267v1M690 268v1M691 269v1M692 270v1M693 271v1M694 271v1M695 272v1M696 273v1M697 274v1M698 274v1M699 275v1M700 276v1M701 276v1M702 277v1M703 278v1M704 278v1M705 279v1M706 280v1M707 280v1M708 281v1M709 282v1M710 282v1M711 283v1M712 284v1M713 284v1M714 285v1M715 286v1M716 287v1M717 287v1M718 288v1M719 289v1M720 290v1M721 290v1M722 291v1M723 292v1M724 293v1M725 293v1M726 294v1M727 295v1M728 295v1M729 296v1M730 297v1M731 298v1M732 298v1M733 299v1M734 300v1M735 300v1M736 301v1M737 302v1M738 302v1M739 303v1M740 304v1M741 304v1M742 305v1M743 306v1M744 306v1M745 307v1M746 308v1M747 308v1M748 309v1M749 309v1M750 310v1M751 311v1M752 311v1M753 312v1M754 312v1M755 313v1M756 313v1M757 314v1M758 315v1M759 315v1M760 316v1M761 317v1M762 317v1M763 318v1M764 318v1M765 319v1M766 320v1M767 320v1M768 321v1M769 321v1M770 322v1M771 322v1M772 322v1M773 323v1M774 323v1M775 324v1M776 324v1M777 324v1M778 325v1M779 325v1M780 325v1M781 326v1M782 326v1M783 327v1M784 327v1M785 328v1M786 328v1M787 329v1M788 329v1M789 330v1M790 330v1M791 331v1M792 331v1M793 332v1M794 333v1M795 333v1M796 334v1M797 335v1M798 335v1M799 336v1M800 337v1M801 337v1M802 338v1M803 339v1M804 340v1M805 340v1M806 341v1M807 341v1M808 342v1M809 343v1M810 343v1M811 344v1M812 344v1M813 345v1M814 346v1M815 346v1M816 347v1M817 347v1M818 348v1M819 349v1M820 349v1M821 350v1M822 351v1M823 351v1M824 352v1M825 353v1M826 353v1M827 354v1M828 355v1M829 355v1M830 356v1M831 357v1M832 358v1M833 358v1M834 359v1M835 359v1M836 360v1M837 361v1M838 361v1M839 362v1M840 363v1M841 364v1M842 364v1M843 365v1M844 366v1M845 366v1M846 367v1M847 368v1M848 368v1M849 369v1M850 370v1M851 371v1M852 371v1M853 372v1M854 373v1M855 373v1M856 374v1M857 374v1M858 375v1M859 376v1M860 376v1M861 377v1M862 378v1M863 378v1M864 379v1M865 379v1M866 380v1M867 381v1M868 381v1M869 382v1M870 383v1M871 383v1M872 384v1M873 384v1M874 385v1M875 385v1M876 386v1M877 386v1M878 387v1M879 387v1M880 388v1M881 388v1M882 389v1M883 389v1M884 390v1M885 390v1M886 391v1M887 391v1M888 392v1M889 392v1M890 393v1M891 393v1M892 394v1M893 394v1M894 394v1M895 395v1M896 395v1M897 396v1M898 396v1M899 396v1M900 397v1M901 397v1M902 397v1M903 398v1M904 398v1M905 399v1M906 399v1M907 399v1M908 400v1M909 400v1M910 400v1M911 401v1M912 401v1M913 402v1M914 402v1M915 402v1M916 403v1M917 403v1M918 403v1M919 404v1M920 404v1M921 404v1M922 405v1M923 405v1M924 405v1M925 406v1M926 406v1M927 406v1M928 406v1M929 407v1M930 407v1M931 407v1M932 407v1M933 407v1M934 408v1M935 408v1M936 408v1M937 408v1M938 408v1M939 408v1M940 409v1M941 409v1M942 409v1M943 409v1M944 409v1M945 409v1M946 409v1M947 410v1M948 410v1M949 410v1M950 410v1M951 410v1M952 410v1M953 410v1M954 410v1M955 410v1M956 410v1M957 410v1M958 410v1M959 410v1M960 410v1M961 410v1M962 410v1M963 411v1M964 411v1M965 411v1M966 411v1M967 411v1M968 411v1M969 411v1M970 411v1M971 411v1M972 411v1M973 411v1M974 411v1M975 411v1M976 411v1M977 410v1M978 410v1M979 410v1M980 410v1M981 410v1M982 410v1M983 410v1M984 410v1M985 410v1M986 410v1M987 410v1M988 410v1M989 410v1M990 410v1M991 410v1M992 410v1M993 410v1M994 410v1M995 410v1M996 410v1M997 410v1M998 410v1M999 410v1M1000 410v1M1001 410v1M1002 410v1M1003 410v1M1004 410v1M1005 410v1M1006 410v1M1007 410v1M1008 410v1M1009 410v1M1010 410v1M1011 410v1M1012 410v1M1013 410v1M1014 410v1M1015 411v1M1016 411v1M1017 411v1M1018 411v1M1019 411v1M1020 411v1M1021 411v1M1022 411v1M1023 411v1M1024 411v1M1025 412v1M1026 412v1M1027 412v1M1028 412v1M1029 412v1M1030 412v1M1031 412v1M1032 412v1M1033 412v1M1034 412v1M1035 412v1M1036 412v1M1037 412v1M1038 412v1M1039 412v1M1040 412v1M1041 412v1M1042 412v1M1043 412v1M1044 412v1M1045 412v1M1046 412v1M1047 412v1M1048 412v1M1049 412v1M1050 412v1M1051 412v1M1052 411v1M1053 411v1M1054 411v1M1055 411v1M1056 411v1M1057 411v1M1058 411v1M1059 411v1M1060 411v1M1061 411v1M1062 411v1M1063 411v1M1064 411v1M1065 411v1M1066 411v1M1067 410v1M1068 410v1M1069 410v1M1070 410v1M1071 410v1M1072 410v1M1073 410v1M1074 410v1M1075 410v1M1076 410v1M1077 410v1M1078 410v1M1079 410v1M1080 410v1M1081 410v1M1082 410v1M1083 410v1M1084 410v1M1085 410v1M1086 410v1M1087 410v1M1088 410v1M1089 410v1M1090 410v1M1091 409v1M1092 409v1M1093 409v1M1094 409v1M1095 409v1M1096 409v1M1097 409v1M1098 409v1M1099 409v1M1100 408v1M1101 408v1M1102 408v1M1103 408v1M1104 408v1M1105 407v1M1106 407v1M1107 407v1M1108 407v1M1109 406v1M1110 406v1M1111 406v1M1112 406v1M1113 405v1M1114 405v1M1115 405v1M1116 404v1M1117 404v1M1118 404v1M1119 404v1M1120 403v1M1121 403v1M1122 403v1M1123 402v1M1124 402v1M1125 402v1M1126 402v1M1127 401v1M1128 401v1M1129 401v1M1130 400v1M1131 400v1M1132 400v1M1133 400v1M1134 399v1M1135 399v1M1136 399v1M1137 399v1M1138 399v1M1139 398v1M1140 398v1M1141 398v1M1142 398v1M1143 397v1M1144 397v1M1145 397v1M1146 397v1M1147 396v1M1148 396v1M1149 396v1M1150 396v1M1151 396v1M1152 396v1M1153 395v1M1154 395v1M1155 395v1M1156 395v1M1157 395v1M1158 395v1M1159 394v1M1160 394v1M1161 394v1M1162 394v1M1163 394v1M1164 394v1M1165 394v1M1166 394v1M1167 394v1M1168 393v1M1169 393v1M1170 393v1M1171 393v1M1172 393v1M1173 393v1M1174 393v1M1175 393v1M1176 393v1M1177 392v1M1178 392v1M1179 392v1M1180 392v1M1181 392v1M1182 392v1M1183 392v1M1184 392v1M1185 392v1M1186 391v1M1187 391v1M1188 391v1M1189 391v1M1190 391v1M1191 391v1M1192 391v1M1193 391v1M1194 390v1M1195 390v1M1196 390v1M1197 390v1M1198 390v1M1199 390v1M1200 390v1M1201 390v1M1202 390v1M1203 389v1M1204 389v1M1205 389v1M1206 389v1M1207 389v1M1208 389v1M1209 389v1M1210 389v1M1211 389v1M1212 389v1M1213 389v1M1214 388v1M1215 388v1M1216 388v1M1217 388v1M1218 388v1M1219 388v1M1220 388v1M1221 388v1M1222 388v1M1223 388v1M1224 387v1M1225 387v1M1226 387v1M1227 387v1M1228 387v1M1229 387v1M1230 386v1M1231 386v1M1232 386v1M1233 386v1M1234 386v1M1235 385v1M1236 385v1M1237 385v1M1238 385v1M1239 385v1M1240 384v1M1241 384v1M1242 384v1M1243 384v1M1244 383v1M1245 383v1M1246 383v1M1247 383v1M1248 382v1M1249 382v1M1250 382v1M1251 382v1M1252 381v1M1253 381v1M1254 381v1M1255 380v1M1256 380v1M1257 380v1M1258 380v1M1259 379v1M1260 379v1M1261 379v1M1262 378v1M1263 378v1M1264 378v1M1265 377v1M1266 377v1M1267 377v1M1268 377v1M1269 376v1M1270 376v1M1271 376v1M1272 375v1M1273 375v1M1274 375v1M1275 374v1M1276 374v1M1277 374v1M1278 373v1M1279 373v1M1280 373v1M1281 373v1M1282 372v1M1283 372v1M1284 372v1M1285 371v1M1286 371v1M1287 371v1M1288 370v1M1289 370v1M1290 370v1M1291 370v1M1292 369v1M1293 369v1M1294 369v1M1295 368v1M1296 368v1M1297 368v1M1298 367v1M1299 367v1M1300 367v1M1301 367v1M1302 366v1M1303 366v1M1304 366v1M1305 365v1M1306 365v1M1307 365v1M1308 365v1M1309 364v1M1310 364v1M1311 364v1M1312 363v1M1313 363v1M1314 363v1M1315 363v1M1316 362v1M1317 362v1M1318 362v1M1319 362v1M1320 361v1M1321 361v1M1322 361v1M1323 361v1M1324 360v1M1325 360v1M1326 360v1M1327 360v1M1328 359v1M1329 359v1M1330 359v1M1331 359v1M1332 358v1M1333 358v1M1334 358v1M1335 358v1M1336 357v1M1337 357v1M1338 357v1M1339 357v1M1340 356v1M1341 356v1M1342 356v1M1343 356v1M1344 356v1M1345 355v1M1346 355v1M1347 355v1M1348 355v1M1349 354v1M1350 354v1M1351 354v1M1352 354v1M1353 354v1M1354 353v1M1355 353v1M1356 353v1M1357 353v1M1358 352v1M1359 352v1M1360 352v1M1361 352v1M1362 351v1M1363 351v1M1364 351v1M1365 351v1M1366 350v1M1367 350v1M1368 350v1M1369 350v1M1370 349v1M1371 349v1M1372 349v1M1373 349v1M1374 348v1M1375 348v1M1376 348v1M1377 348v1M1378 347v1M1379 347v1M1380 347v1M1381 346v1M1382 346v1M1383 346v1M1384 346v1M1385 345v1M1386 345v1M1387 345v1M1388 345v1M1389 344v1M1390 344v1M1391 344v1M1392 344v1M1393 343v1M1394 343v1M1395 343v1M1396 343v1M1397 342v1M1398 342v1M1399 342v1M1400 342v1M1401 341v1M1402 341v1M1403 341v1M1404 341v1M1405 340v1M1406 340v1M1407 340v1M1408 340v1M1409 339v1M1410 339v1M1411 339v1M1412 338v1M1413 338v1M1414 338v1M1415 338v1M1416 338v1M1417 337v1M1418 337v1M1419 337v1M1420 337v1M1421 336v1M1422 336v1M1423 336v1M1424 336v1M1425 336v1M1426 336v1M1427 336v1M1428 335v1M1429 335v1M1430 335v1M1431 335v1M1432 335v1M1433 335v1M1434 335v1M1435 335v1M1436 335v1M1437 335v1M1438 335v1M1439 335v1M1440 334v1M1441 334v1M1442 334v1M1443 334v1M1444 334v1M1445 334v1M1446 334v1M1447 334v1M1448 333v1M1449 333v1M1450 333v1M1451 333v1M1452 333v1M1453 333v1M1454 333v1M1455 332v1M1456 332v1M1457 332v1M1458 332v1M1459 332v1M1460 332v1M1461 331v1M1462 331v1M1463 331v1M1464 331v1M1465 331v1M1466 330v1M1467 330v1M1468 330v1M1469 330v1M1470 330v1M1471 329v1M1472 329v1M1473 329v1M1474 329v1M1475 329v1M1476 328v1M1477 328v1M1478 328v1M1479 328v1M1480 327v1M1481 327v1M1482 327v1M1483 327v1M1484 326v1M1485 326v1M1486 326v1M1487 326v1M1488 325v1M1489 325v1M1490 325v1M1491 325v1M1492 324v1M1493 324v1M1494 324v1M1495 323v1M1496 323v1M1497 323v1M1498 323v1M1499 322v1M1500 322v1M1501 322v1M1502 321v1M1503 321v1M1504 321v1M1505 320v1M1506 320v1M1507 320v1M1508 319v1M1509 319v1M1510 319v1M1511 319v1M1512 318v1M1513 318v1M1514 318v1M1515 317v1M1516 317v1M1517 317v1M1518 317v1M1519 316v1M1520 316v1M1521 316v1M1522 315v1M1523 315v1M1524 315v1M1525 315v1M1526 314v1M1527 314v1M1528 314v1M1529 314v1M1530 313v1M1531 313v1M1532 313v1M1533 313v1M1534 312v1M1535 312v1M1536 312v1M1537 312v1M1538 312v1M1539 311v1M1540 311v1M1541 311v1M1542 311v1M1543 311v1M1544 310v1M1545 310v1M1546 310v1M1547 310v1M1548 310v1M1549 309v1M1550 309v1M1551 309v1M1552 309v1M1553 309v1M1554 308v1M1555 308v1M1556 308v1M1557 308v1M1558 308v1M1559 308v1M1560 307v1M1561 307v1M1562 307v1M1563 307v1M1564 307v1M1565 307v1M1566 306v1M1567 306v1M1568 306v1M1569 306v1M1570 306v1M1571 306v1M1572 305v1M1573 305v1M1574 305v1M1575 305v1M1576 305v1M1577 304v1M1578 304v1M1579 304v1M1580 304v1M1581 303v1M1582 303v1M1583 303v1M1584 302v1M1585 302v1M1586 301v1M1587 301v1M1588 301v1M1589 300v1M1590 300v1M1591 299v1M1592 299v1M1593 299v1M1594 298v1M1595 298v1M1596 297v1M1597 297v1M1598 297v1M1599 296v1M1600 296v1M1601 296v1M1602 295v1M1603 295v1M1604 295v1M1605 295v1M1606 294v1M1607 294v1M1608 294v1M1609 294v1M1610 293v1M1611 293v1M1612 293v1M1613 293v1M1614 292v1M1615 292v1M1616 292v1M1617 292v1M1618 291v1M1619 291v1M1620 291v1M1621 290v1M1622 290v1M1623 290v1M1624 290v1M1625 289v1M1626 289v1M1627 289v1M1628 288v1M1629 288v1M1630 287v1M1631 287v1M1632 287v1M1633 286v1M1634 286v1M1635 286v1M1636 285v1M1637 285v1M1638 285v1M1639 285v1M1640 284v1M1641 284v1M1642 284v1M1643 283v1M1644 283v1M1645 283v1M1646 282v1M1647 282v1M1648 282v1M1649 281v1M1650 281v1M1651 281v1M1652 280v1M1653 280v1M1654 280v1M1655 280v1M1656 279v1M1657 279v1M1658 279v1M1659 279v1M1660 279v1M1661 278v1" fill="none" stroke="#ff00ff" stroke-width="1" transform="translate(0.5,0)"/>
<path d="M11 34v1M12 35v1M13 35v1M14 36v1M15 36v1M16 37v1M17 37v1M18 38v1M19 38v1M20 39v1M21 39v1M22 40v1M23 41v1M24 41v1M25 42v1M26 43v1M27 44v1M28 44v1M29 45v1M30 46v1M31 47v1M32 47v1M33 48v1M34 49v1M35 50v1M36 50v1M37 51v1M38 52v1M39 53v1M40 54v1M41 55v1M42 56v1M43 57v1M44 58v1M45 59v1M46 60v1M47 61v1M48 62v1M49 63v1M50 64v1M51 65v1M52 66v1M53 67v1M54 68v1M55 69v1M56 70v1M57 71v1M58 72v1M59 73v1M60 74v1M61 75v1M62 76v1M63 77v1M64 78v1M65 79v1M66 80v1M67 81v1M68 82v1M69 83v1M70 84v1M71 85v1M72 86v1M73 87v1M74 88v1M75 89v1M76 90v1M77 91v1M78 92v1M79 92v1M80 93v1M81 94v1M82 95v1M83 96v1M84 96v1M85 97v1M86 98v1M87 99v1M88 99v1M89 100v1M90 101v1M91 102v1M92 102v1M93 103v1M94 104v1M95 104v1M96 105v1M97 105v1M98 106v1M99 106v1M100 107v1M101 107v1M102 108v1M103 108v1M104 109v1M105 109v1M106 110v1M107 110v1M108 111v1M109 111v1M110 112v1M111 112v1M112 113v1M113 113v1M114 114v1M115 114v1M116 115v1M117 115v1M118 116v1M119 116v1M120 117v1M121 117v1M122 118v1M123 118v1M124 119v1M125 119v1M126 120v1M127 120v1M128 121v1M129 121v1M130 122v1M131 122v1M132 122v1M133 123v1M134 123v1M135 124v1M136 124v1M137 124v1M138 124v1M139 125v1M140 125v1M141 125v1M142 125v1M143 125v1M144 126v1M145 126v1M146 126v1M147 126v1M148 126v1M149 126v1M150 127v1M151 127v1M152 127v1M153 127v1M154 127v1M155 127v1M156 127v1M157 127v1M158 127v1M159 127v1M160 127v1M161 127v1M162 127v1M163 127v1M164 127v1M165 127v1M166 127v1M167 127v1M168 127v1M169 127v1M170 126v1M171 127v1M172 127v1M173 127v1M174 127v1M175 127v1M176 127v1M177 127v1M178 127v1M179 128v1M180 128v1M181 128v1M182 128v1M183 128v1M184 128v1M185 129v1M186 129v1M187 129v1M188 129v1M189 129v1M190 129v1M191 129v1M192 129v1M193 129v1M194 129v1M195 129v1M196 129v1M197 129v1M198 129v1M199 129v1M200 129v1M201 129v1M202 129v1M203 129v1M204 129v1M205 128v1M206 128v1M207 128v1M208 128v1M209 128v1M210 127v1M211 127v1M212 126v1M213 126v1M214 126v1M215 125v1M216 125v1M217 125v1M218 124v1M219 124v1M220 123v1M221 123v1M222 122v1M223 122v1M224 121v1M225 121v1M226 120v1M227 120v1M228 119v1M229 119v1M230 118v1M231 118v1M232 117v1M233 117v1M234 116v1M235 116v1M236 115v1M237 114v1M238 114v1M239 113v1M240 113v1M241 112v1M242 112v1M243 111v1M244 111v1M245 110v1M246 110v1M247 109v1M248 109v1M249 109v1M250 108v1M251 108v1M252 107v1M253 107v1M254 107v1M255 106v1M256 106v1M257 106v1M258 105v1M259 105v1M260 105v1M261 104v1M262 104v1M263 104v1M264 104v1M265 103v1M266 103v1M267 103v1M268 102v1M269 102v1M270 102v1M271 102v1M272 102v1M273 101v1M274 101v1M275 101v1M276 101v1M277 101v1M278 100v1M279 100v1M280 100v1M281 100v1M282 100v1M283 100v1M284 100v1M285 100v1M286 99v1M287 99v1M288 99v1M289 99v1M290 99v1M291 99v1M292 99v1M293 99v1M294 99v1M295 99v1M296 99v1M297 99v1M298 99v1M299 99v1M300 100v1M301 100v1M302 100v1M303 100v1M304 101v1M305 101v1M306 101v1M307 102v1M308 102v1M309 102v1M310 103v1M311 103v1M312 104v1M313 104v1M314 104v1M315 105v1M316 105v1M317 105v1M318 106v1M319 106v1M320 106v1M321 107v1M322 107v1M323 107v1M324 108v1M325 108v1M326 109v1M327 109v1M328 109v1M329 110v1M330 110v1M331 111v1M332 111v1M333 112v1M334 112v1M335 113v1M336 113v1M337 114v1M338 115v1M339 115v1M340 116v1M341 117v1M342 117v1M343 118v1M344 119v1M345 119v1M346 120v1M347 121v1M348 121v1M349 122v1M350 123v1M351 123v1M352 124v1M353 124v1M354 125v1M355 125v1M356 126v1M357 126v1M358 127v1M359 127v1M360 128v1M361 129v1M362 129v1M363 130v1M364 130v1M365 131v1M366 131v1M367 132v1M368 133v1M369 133v1M370 134v1M371 135v1M372 136v1M373 136v1M374 137v1M375 138v1M376 139v1M377 140v1M378 141v1M379 141v1M380 142v1M381 143v1M382 144v1M383 145v1M384 146v1M385 147v1M386 148v1M387 149v1M388 150v1M389 151v1M390 152v1M391 152v1M392 153v1M393 154v1M394 155v1M395 156v1M396 157v1M397 158v1M398 159v1M399 160v1M400 161v1M401 161v1M402 162v1M403 163v1M404 164v1M405 165v1M406 166v1M407 167v1M408 167v1M409 168v1M410 169v1M411 170v1M412 170v1M413 171v1M414 172v1M415 173v1M416 173v1M417 174v1M418 175v1M419 175v1M420 176v1M421 176v1M422 177v1M423 178v1M424 178v1M425 179v1M426 179v1M427 180v1M428 180v1M429 181v1M430 181v1M431 182v1M432 182v1M433 182v1M434 183v1M435 183v1M436 183v1M437 184v1M438 184v1M439 185v1M440 185v1M441 186v1M442 186v1M443 187v1M444 187v1M445 188v1M446 189v1M447 189v1M448 190v1M449 191v1M450 192v1M451 192v1M452 193v1M453 194v1M454 194v1M455 195v1M456 196v1M457 197v1M458 197v1M459 198v1M460 199v1M461 199v1M462 200v1M463 201v1M464 201v1M465 202v1M466 203v1M467 203v1M468 204v1M469 204v1M470 205v1M471 206v1M472 206v1M473 207v1M474 207v1M475 208v1M476 209v1M477 209v1M478 210v1M479 210v1M480 211v1M481 212v1M482 212v1M483 213v1M484 213v1M485 214v1M486 215v1M487 216v1M488 217v1M489 218v1M490 219v1M491 220v1M492 221v1M493 221v1M494 222v1M495 223v1M496 224v1M497 225v1M498 226v1M499 227v1M500 228v1M501 228v1M502 229v1M503 230v1M504 231v1M505 232v1M506 232v1M507 233v1M508 234v1M509 234v1M510 235v1M511 236v1M512 236v1M513 237v1M514 238v1M515 239v1M516 239v1M517 240v1M518 241v1M519 242v1M520 243v1M521 244v1M522 245v1M523 246v1M524 247v1M525 248v1M526 249v1M527 250v1M528 251v1M529 252v1M530 253v1M531 254v2M532 256v1M533 257v1M534 258v2M535 260v1M536 261v1M537 262v2M538 264v1M539 265v1M540 266v1M541 267v1M542 267v1M543 268v1M544 268v1M545 268v1M546 269v1M547 269v1M548 270v1M549 270v1M550 270v1M551 271v1M552 271v1M553 272v1M554 272v1M555 273v1M556 274v1M557 274v1M558 275v1M559 276v1M560 276v1M561 277v1M562 278v1M563 279v1M564 280v1M565 281v1M566 281v1M567 282v1M568 283v1M569 283v1M570 284v1M571 284v1M572 285v1M573 285v1M574 286v1M575 286v1M576 286v1M577 287v1M578 287v1M579 287v1M580 288v1M581 288v1M582 288v1M583 289v1M584 289v1M585 290v1M586 290v1M587 291v1M588 292v1M589 292v1M590 293v1M591 294v1M592 295v1M593 295v1M594 296v1M595 297v1M596 298v1M597 299v1M598 300v1M599 301v1M600 302v1M601 303v1M602 304v1M603 305v1M604 306v1M605 307v1M606 308v1M607 309v1M608 310v1M609 311v1M610 312v1M611 313v1M612 314v2M613 316v1M614 317v1M615 318v1M616 319v1M617 320v1M618 321v1M619 322v1M620 323v1M621 324v1M622 324v1M623 325v1M624 326v1M625 327v1M626 328v1M627 329v1M628 330v1M629 330v1M630 331v1M631 332v1M632 333v1M633 334v1M634 335v1M635 335v1M636 336v1M637 337v1M638 338v1M639 339v1M640 340v1M641 340v1M642 341v1M643 342v1M644 343v1M645 344v1M646 345v1M647 345v1M648 346v1M649 347v1M650 347v1M651 348v1M652 349v1M653 349v1M654 350v1M655 350v1M656 351v1M657 351v1M658 352v1M659 352v1M660 353v1M661 353v1M662 353v1M663 354v1M664 354v1M665 354v1M666 355v1M667 355v1M668 356v1M669 356v1M670 357v1M671 357v1M672 358v1M673 358v1M674 359v1M675 359v1M676 360v1M677 360v1M678 361v1M679 361v1M680 362v1M681 362v1M682 363v1M683 363v1M684 364v1M685 364v1M686 364v1M687 365v1M688 365v1M689 365v1M690 365v1M691 366v1M692 366v1M693 366v1M694 366v1M695 366v1M696 367v1M697 367v1M698 367v1M699 367v1M700 367v1M701 367v1M702 366v1M703 366v1M704 366v1M705 366v1M706 366v1M707 366v1M708 366v1M709 366v1M710 367v1M711 368v1M712 368v1M713 369v1M714 369v1M715 370v1M716 371v1M717 372v1M718 373v1M719 373v1M720 374v1M721 375v1M722 375v1M723 376v1M724 376v1M725 377v1M726 377v1M727 378v1M728 378v1M729 379v1M730 379v1M731 380v1M732 381v1M733 381v1M734 382v1M735 383v1M736 384v1M737 385v1M738 386v1M739 387v1M740 388v1M741 389v1M742 390v1M743 391v1M744 392v1M745 393v1M746 394v1M747 395v1M748 396v1M749 397v1M750 398v1M751 398v1M752 399v1M753 400v1M754 400v1M755 401v1M756 401v1M757 402v1M758 402v1M759 403v1M760 403v1M761 404v1M762 404v1M763 404v1M764 405v1M765 405v1M766 405v1M767 406v1M768 406v1M769 406v1M770 407v1M771 407v1M772 407v1M773 407v1M774 407v1M775 407v1M776 407v1M777 406v1M778 406v1M779 406v1M780 406v1M781 406v1M782 406v1M783 406v1M784 406v1M785 406v1M786 407v1M787 407v1M788 407v1M789 408v1M790 408v1M791 409v1M792 409v1M793 409v1M794 410v1M795 410v1M796 411v1M797 411v1M798 412v1M799 413v1M800 413v1M801 414v1M802 414v1M803 415v1M804 416v1M805 416v1M806 417v1M807 417v1M808 418v1M809 418v1M810 419v1M811 420v1M812 421v1M813 422v1M814 423v1M815 424v1M816 425v1M817 426v1M818 427v1M819 428v1M820 429v1M821 430v1M822 431v1M823 432v1M824 432v1M825 433v1M826 434v1M827 435v1M828 436v1M829 436v1M830 437v1M831 438v1M832 438v1M833 439v1M834 439v1M835 440v1M836 441v1M837 441v1M838 442v1M839 442v1M840 443v1M841 443v1M842 444v1M843 444v1M844 445v1M845 445v1M846 446v1M847 446v1M848 447v1M849 447v1M850 448v1M851 448v1M852 449v1M853 449v1M854 450v1M855 450v1M856 451v1M857 451v1M858 452v1M859 452v1M860 453v1M861 453v1M862 453v1M863 454v1M864 454v1M865 455v1M866 455v1M867 456v1M868 456v1M869 457v1M870 457v1M871 458v1M872 458v1M873 459v1M874 459v1M875 459v1M876 459v1M877 460v1M878 459v1M879 459v1M880 459v1M881 459v1M882 459v1M883 459v1M884 459v1M885 459v1M886 458v1M887 458v1M888 458v1M889 458v1M890 457v1M891 457v1M892 457v1M893 457v1M894 457v1M895 457v1M896 456v1M897 456v1M898 456v1M899 456v1M900 456v1M901 456v1M902 456v1M903 456v1M904 455v1M905 455v1M906 455v1M907 455v1M908 455v1M909 455v1M910 455v1M911 454v1M912 454v1M913 454v1M914 454v1M915 454v1M916 454v1M917 453v1M918 453v1M919 453v1M920 453v1M921 453v1M922 453v1M923 452v1M924 452v1M925 452v1M926 452v1M927 452v1M928 452v1M929 452v1M930 451v1M931 451v1M932 451v1M933 451v1M934 451v1M935 451v1M936 451v1M937 451v1M938 451v1M939 451v1M940 451v1M941 451v1M942 451v1M943 451v1M944 451v1M945 451v1M946 451v1M947 451v1M948 451v1M949 451v1M950 451v1M951 451v1M952 451v1M953 450v1M954 450v1M955 450v1M956 450v1M957 449v1M958 449v1M959 449v1M960 448v1M961 448v1M962 447v1M963 447v1M964 447v1M965 446v1M966 446v1M967 445v1M968 445v1M969 444v1M970 444v1M971 443v1M972 442v1M973 442v1M974 441v1M975 440v1M976 440v1M977 439v1M978 438v1M979 437v1M980 436v1M981 436v1M982 435v1M983 434v1M984 433v1M985 432v1M986 431v1M987 430v1M988 429v1M989 428v1M990 427v1M991 426v1M992 425v1M993 424v1M994 423v1M995 421v2M996 420v1M997 419v1M998 418v1M999 417v1M1000 415v2M1001 414v1M1002 413v1M1003 412v1M1004 411v1M1005 410v1M1006 409v1M1007 408v1M1008 406v2M1009 405v1M1010 404v1M1011 403v1M1012 402v1M1013 401v1M1014 400v1M1015 398v2M1016 397v1M1017 396v1M1018 395v1M1019 394v1M1020 393v1M1021 392v1M1022 391v1M1023 390v1M1024 390v1M1025 389v1M1026 388v1M1027 387v1M1028 386v1M1029 385v1M1030 384v1M1031 384v1M1032 383v1M1033 382v1M1034 381v1M1035 381v1M1036 380v1M1037 379v1M1038 378v1M1039 378v1M1040 377v1M1041 377v1M1042 376v1M1043 375v1M1044 375v1M1045 374v1M1046 374v1M1047 374v1M1048 373v1M1049 373v1M1050 372v1M1051 372v1M1052 371v1M1053 371v1M1054 371v1M1055 370v1M1056 370v1M1057 370v1M1058 370v1M1059 369v1M1060 369v1M1061 369v1M1062 369v1M1063 368v1M1064 368v1M1065 368v1M1066 368v1M1067 367v1M1068 367v1M1069 367v1M1070 367v1M1071 367v1M1072 366v1M1073 366v1M1074 366v1M1075 366v1M1076 365v1M1077 365v1M1078 365v1M1079 364v1M1080 364v1M1081 364v1M1082 363v1M1083 363v1M1084 362v1M1085 362v1M1086 362v1M1087 361v1M1088 361v1M1089 360v1M1090 360v1M1091 360v1M1092 359v1M1093 359v1M1094 358v1M1095 358v1M1096 357v1M1097 357v1M1098 356v1M1099 356v1M1100 355v1M1101 355v1M1102 354v1M1103 354v1M1104 353v1M1105 353v1M1106 352v1M1107 352v1M1108 352v1M1109 351v1M1110 351v1M1111 350v1M1112 350v1M1113 349v1M1114 349v1M1115 348v1M1116 348v1M1117 347v1M1118 347v1M1119 346v1M1120 346v1M1121 346v1M1122 345v1M1123 345v1M1124 344v1M1125 344v1M1126 344v1M1127 343v1M1128 343v1M1129 342v1M1130 342v1M1131 342v1M1132 341v1M1133 341v1M1134 340v1M1135 340v1M1136 339v1M1137 338v1M1138 338v1M1139 337v1M1140 337v1M1141 336v1M1142 335v1M1143 334v1M1144 334v1M1145 333v1M1146 333v1M1147 332v1M1148 332v1M1149 331v1M1150 331v1M1151 331v1M1152 331v1M1153 331v1M1154 331v1M1155 331v1M1156 332v1M1157 332v1M1158 332v1M1159 333v1M1160 333v1M1161 333v1M1162 334v1M1163 334v1M1164 334v1M1165 335v1M1166 335v1M1167 336v1M1168 336v1M1169 337v1M1170 337v1M1171 337v1M1172 338v1M1173 338v1M1174 339v1M1175 339v1M1176 340v1M1177 340v1M1178 340v1M1179 340v1M1180 341v1M1181 341v1M1182 341v1M1183 341v1M1184 342v1M1185 342v1M1186 342v1M1187 342v1M1188 342v1M1189 343v1M1190 343v1M1191 343v1M1192 343v1M1193 343v1M1194 344v1M1195 344v1M1196 344v1M1197 344v1M1198 344v1M1199 345v1M1200 345v1M1201 345v1M1202 345v1M1203 345v1M1204 345v1M1205 345v1M1206 346v1M1207 346v1M1208 346v1M1209 346v1M1210 346v1M1211 346v1M1212 346v1M1213 346v1M1214 346v1M1215 346v1M1216 346v1M1217 346v1M1218 347v1M1219 347v1M1220 347v1M1221 347v1M1222 347v1M1223 347v1M1224 347v1M1225 347v1M1226 347v1M1227 347v1M1228 347v1M1229 347v1M1230 347v1M1231 347v1M1232 347v1M1233 347v1M1234 347v1M1235 347v1M1236 347v1M1237 347v1M1238 347v1M1239 347v1M1240 347v1M1241 347v1M1242 347v1M1243 347v1M1244 347v1M1245 347v1M1246 347v1M1247 347v1M1248 347v1M1249 347v1M1250 347v1M1251 347v1M1252 348v1M1253 348v1M1254 348v1M1255 348v1M1256 349v1M1257 349v1M1258 349v1M1259 349v1M1260 350v1M1261 350v1M1262 350v1M1263 351v1M1264 351v1M1265 351v1M1266 352v1M1267 352v1M1268 352v1M1269 353v1M1270 353v1M1271 353v1M1272 354v1M1273 354v1M1274 354v1M1275 355v1M1276 355v1M1277 355v1M1278 356v1M1279 356v1M1280 356v1M1281 357v1M1282 357v1M1283 357v1M1284 358v1M1285 358v1M1286 358v1M1287 358v1M1288 359v1M1289 359v1M1290 359v1M1291 360v1M1292 360v1M1293 360v1M1294 361v1M1295 361v1M1296 362v1M1297 362v1M1298 362v1M1299 363v1M1300 363v1M1301 364v1M1302 364v1M1303 364v1M1304 365v1M1305 365v1M1306 365v1M1307 366v1M1308 366v1M1309 366v1M1310 366v1M1311 367v1M1312 367v1M1313 367v1M1314 367v1M1315 367v1M1316 367v1M1317 368v1M1318 367v1M1319 367v1M1320 367v1M1321 367v1M1322 367v1M1323 367v1M1324 367v1M1325 367v1M1326 367v1M1327 367v1M1328 366v1M1329 366v1M1330 366v1M1331 366v1M1332 366v1M1333 365v1M1334 365v1M1335 365v1M1336 364v1M1337 364v1M1338 364v1M1339 363v1M1340 363v1M1341 362v1M1342 362v1M1343 362v1M1344 361v1M1345 361v1M1346 360v1M1347 360v1M1348 359v1M1349 359v1M1350 358v1M1351 358v1M1352 357v1M1353 357v1M1354 356v1M1355 356v1M1356 355v1M1357 355v1M1358 354v1M1359 354v1M1360 353v1M1361 352v1M1362 352v1M1363 351v1M1364 350v1M1365 350v1M1366 349v1M1367 348v1M1368 348v1M1369 347v1M1370 346v1M1371 346v1M1372 345v1M1373 344v1M1374 343v1M1375 343v1M1376 342v1M1377 341v1M1378 341v1M1379 340v1M1380 339v1M1381 338v1M1382 338v1M1383 337v1M1384 337v1M1385 336v1M1386 335v1M1387 335v1M1388 334v1M1389 334v1M1390 333v1M1391 333v1M1392 332v1M1393 332v1M1394 331v1M1395 331v1M1396 330v1M1397 330v1M1398 330v1M1399 329v1M1400 329v1M1401 328v1M1402 328v1M1403 328v1M1404 327v1M1405 327v1M1406 327v1M1407 326v1M1408 326v1M1409 326v1M1410 325v1M1411 325v1M1412 325v1M1413 325v1M1414 324v1M1415 324v1M1416 324v1M1417 323v1M1418 323v1M1419 323v1M1420 322v1M1421 322v1M1422 321v1M1423 321v1M1424 321v1M1425 320v1M1426 320v1M1427 319v1M1428 319v1M1429 318v1M1430 318v1M1431 317v1M1432 316v1M1433 316v1M1434 315v1M1435 315v1M1436 314v1M1437 313v1M1438 313v1M1439 312v1M1440 311v1M1441 311v1M1442 310v1M1443 309v1M1444 308v1M1445 308v1M1446 307v1M1447 306v1M1448 305v1M1449 304v1M1450 303v1M1451 303v1M1452 302v1M1453 301v1M1454 300v1M1455 299v1M1456 298v1M1457 297v1M1458 296v1M1459 296v1M1460 295v1M1461 294v1M1462 293v1M1463 292v1M1464 291v1M1465 290v1M1466 290v1M1467 289v1M1468 288v1M1469 287v1M1470 287v1M1471 286v1M1472 285v1M1473 285v1M1474 284v1M1475 283v1M1476 283v1M1477 282v1M1478 281v1M1479 281v1M1480 280v1M1481 280v1M1482 279v1M1483 278v1M1484 278v1M1485 277v1M1486 277v1M1487 276v1M1488 275v1M1489 275v1M1490 274v1M1491 274v1M1492 273v1M1493 273v1M1494 272v1M1495 271v1M1496 271v1M1497 270v1M1498 270v1M1499 269v1M1500 269v1M1501 268v1M1502 268v1M1503 268v1M1504 267v1M1505 267v1M1506 266v1M1507 266v1M1508 266v1M1509 265v1M1510 265v1M1511 265v1M1512 265v1M1513 264v1M1514 264v1M1515 264v1M1516 263v1M1517 263v1M1518 263v1M1519 263v1M1520 262v1M1521 262v1M1522 262v1M1523 262v1M1524 261v1M1525 261v1M1526 261v1M1527 260v1M1528 260v1M1529 260v1M1530 260v1M1531 259v1M1532 259v1M1533 259v1M1534 259v1M1535 258v1M1536 258v1M1537 258v1M1538 258v1M1539 258v1M1540 258v1M1541 257v1M1542 257v1M1543 257v1M1544 257v1M1545 257v1M1546 257v1M1547 257v1M1548 257v1M1549 257v1M1550 257v1M1551 257v1M1552 256v1M1553 256v1M1554 256v1M1555 256v1M1556 256v1M1557 256v1M1558 255v1M1559 255v1M1560 255v1M1561 254v1M1562 254v1M1563 254v1M1564 253v1M1565 253v1M1566 252v1M1567 252v1M1568 252v1M1569 251v1M1570 251v1M1571 250v1M1572 250v1M1573 250v1M1574 249v1M1575 249v1M1576 248v1M1577 248v1M1578 247v1M1579 247v1M1580 246v1M1581 246v1M1582 245v1M1583 245v1M1584 244v1M1585 244v1M1586 243v1M1587 243v1M1588 242v1M1589 241v1M1590 241v1M1591 240v1M1592 240v1M1593 239v1M1594 239v1M1595 239v1M1596 238v1M1597 238v1M1598 238v1M1599 238v1M1600 237v1M1601 237v1M1602 237v1M1603 236v1M1604 236v1M1605 236v1M1606 236v1M1607 235v1M1608 235v1M1609 235v1M1610 235v1M1611 235v1M1612 234v1M1613 234v1M1614 234v1M1615 234v1M1616 233v1M1617 233v1M1618 233v1M1619 233v1M1620 233v1M1621 232v1M1622 232v1M1623 232v1M1624 232v1M1625 232v1M1626 232v1M1627 232v1M1628 231v1M1629 231v1M1630 231v1M1631 231v1M1632 231v1M1633 231v1M1634 231v1M1635 231v1M1636 231v1M1637 231v1M1638 231v1M1639 231v1M1640 231v1M1641 231v1M1642 231v1M1643 231v1M1644 231v1M1645 231v1M1646 231v1M1647 231v1M1648 231v1M1649 231v1M1650 231v1M1651 231v1M1652 231v1M1653 231v1M1654 231v1M1655 231v1M1656 231v1M1657 231v1M1658 231v1M1659 231v1M1660 231v1M1661 231v1" fill="none" stroke="#ffa500" stroke-width="1" transform="translate(0.5,0)"/>
<rect x="5" y="184" width="1675" height="2" fill="#ff0000"/>
<rect x="5" y="254" width="1675" height="2" fill="#32cd32"/>
<rect x="5" y="302" width="1675" height="2" fill="#4169e1"/>
<rect x="5" y="355" width="1675" height="2" fill="#4169e1"/>
</g>
<rect x="4" y="252" width="6" height="6" fill="#32cd32"/><rect x="6" y="254" width="2" height="2" fill="#fff"/>
<rect x="1674" y="252" width="6" height="6" fill="#32cd32"/><rect x="1676" y="254" width="2" height="2" fill="#fff"/>
<rect x="4" y="300" width="6" height="6" fill="#4169e1"/><rect x="6" y="302" width="2" height="2" fill="#fff"/>
<rect x="1674" y="300" width="6" height="6" fill="#4169e1"/><rect x="1676" y="302" width="2" height="2" fill="#fff"/>
<path d="M8 41 L16 41 L12 45.5Z" fill="#000" shape-rendering="auto"/>
<text class="info" x="20.3" y="46">SP500-,H4&#160;&#160;2753.500 2767.500 2752.000 2756.750</text>
<text x="1178.5" y="124" style="font-size:32.5px" fill="#ff1e00">多空转折点</text><text transform="translate(1340.5,123) scale(0.972,1)" style="font-size:35px" fill="#ff1e00">2730</text>
<rect x="1681" y="39" width="2" height="1" fill="#000"/>
<text class="ax" x="1686" y="43.2">3177.010</text>
<rect x="1681" y="72" width="2" height="1" fill="#000"/>
<text class="ax" x="1686" y="76.2">3109.030</text>
<rect x="1681" y="105" width="2" height="1" fill="#000"/>
<text class="ax" x="1686" y="109.2">3038.990</text>
<rect x="1681" y="138" width="2" height="1" fill="#000"/>
<text class="ax" x="1686" y="142.2">2971.010</text>
<rect x="1681" y="171" width="2" height="1" fill="#000"/>
<text class="ax" x="1686" y="175.2">2903.030</text>
<rect x="1681" y="204" width="2" height="1" fill="#000"/>
<text class="ax" x="1686" y="208.2">2835.050</text>
<rect x="1681" y="237" width="2" height="1" fill="#000"/>
<text class="ax" x="1686" y="241.2">2767.070</text>
<rect x="1681" y="270" width="2" height="1" fill="#000"/>
<text class="ax" x="1686" y="274.2">2699.090</text>
<rect x="1681" y="303" width="2" height="1" fill="#000"/>
<text class="ax" x="1686" y="307.2">2631.110</text>
<rect x="1681" y="336" width="2" height="1" fill="#000"/>
<text class="ax" x="1686" y="340.2">2561.070</text>
<rect x="1681" y="369" width="2" height="1" fill="#000"/>
<text class="ax" x="1686" y="373.2">2493.090</text>
<rect x="1681" y="402" width="2" height="1" fill="#000"/>
<text class="ax" x="1686" y="406.2">2425.110</text>
<rect x="1681" y="435" width="2" height="1" fill="#000"/>
<text class="ax" x="1686" y="439.2">2357.130</text>
<rect x="1681" y="468" width="2" height="1" fill="#000"/>
<text class="ax" x="1686" y="472.2">2289.150</text>
<rect x="1681" y="501" width="2" height="1" fill="#000"/>
<text class="ax" x="1686" y="505.2">2221.170</text>
<rect x="1681" y="534" width="2" height="1" fill="#000"/>
<text class="ax" x="1686" y="538.2">2153.190</text>
<rect x="1682" y="179" width="43" height="11" fill="#ff0000"/>
<rect x="1681" y="182" width="1" height="4" fill="#ff0000"/>
<text class="lb" x="1686" y="188">2875.000</text>
<rect x="1682" y="238" width="43" height="10" fill="#000"/>
<rect x="1681" y="241" width="1" height="4" fill="#000"/>
<text class="lb" x="1686" y="246">2756.750</text>
<rect x="1682" y="249" width="43" height="11" fill="#32cd32"/>
<rect x="1681" y="252" width="1" height="4" fill="#32cd32"/>
<text class="lb" x="1686" y="258">2730.000</text>
<rect x="1682" y="297" width="43" height="11" fill="#4169e1"/>
<rect x="1681" y="300" width="1" height="4" fill="#4169e1"/>
<text class="lb" x="1686" y="306">2630.000</text>
<rect x="1682" y="350" width="43" height="11" fill="#4169e1"/>
<rect x="1681" y="353" width="1" height="4" fill="#4169e1"/>
<text class="lb" x="1686" y="359">2520.000</text>
<text class="info" style="letter-spacing:0" x="9.3" y="552">MACD(12,26,9) 18.4561 32.9269</text>
<rect x="5" y="582" width="1" height="39" fill="#c0c0c0"/>
<rect x="13" y="582" width="1" height="39" fill="#c0c0c0"/>
<rect x="21" y="582" width="1" height="41" fill="#c0c0c0"/>
<rect x="29" y="582" width="1" height="42" fill="#c0c0c0"/>
<rect x="37" y="582" width="1" height="46" fill="#c0c0c0"/>
<rect x="45" y="582" width="1" height="50" fill="#c0c0c0"/>
<rect x="53" y="582" width="1" height="52" fill="#c0c0c0"/>
<rect x="61" y="582" width="1" height="55" fill="#c0c0c0"/>
<rect x="69" y="582" width="1" height="58" fill="#c0c0c0"/>
<rect x="77" y="582" width="1" height="58" fill="#c0c0c0"/>
<rect x="85" y="582" width="1" height="55" fill="#c0c0c0"/>
<rect x="93" y="582" width="1" height="54" fill="#c0c0c0"/>
<rect x="101" y="582" width="1" height="50" fill="#c0c0c0"/>
<rect x="109" y="582" width="1" height="45" fill="#c0c0c0"/>
<rect x="117" y="582" width="1" height="46" fill="#c0c0c0"/>
<rect x="125" y="582" width="1" height="42" fill="#c0c0c0"/>
<rect x="133" y="582" width="1" height="37" fill="#c0c0c0"/>
<rect x="141" y="582" width="1" height="29" fill="#c0c0c0"/>
<rect x="149" y="582" width="1" height="23" fill="#c0c0c0"/>
<rect x="157" y="582" width="1" height="17" fill="#c0c0c0"/>
<rect x="165" y="582" width="1" height="12" fill="#c0c0c0"/>
<rect x="173" y="582" width="1" height="8" fill="#c0c0c0"/>
<rect x="181" y="582" width="1" height="9" fill="#c0c0c0"/>
<rect x="189" y="582" width="1" height="10" fill="#c0c0c0"/>
<rect x="197" y="582" width="1" height="10" fill="#c0c0c0"/>
<rect x="205" y="582" width="1" height="8" fill="#c0c0c0"/>
<rect x="213" y="582" width="1" height="6" fill="#c0c0c0"/>
<rect x="221" y="582" width="1" height="5" fill="#c0c0c0"/>
<rect x="229" y="582" width="1" height="2" fill="#c0c0c0"/>
<rect x="245" y="580" width="1" height="2" fill="#c0c0c0"/>
<rect x="253" y="579" width="1" height="3" fill="#c0c0c0"/>
<rect x="261" y="580" width="1" height="2" fill="#c0c0c0"/>
<rect x="269" y="581" width="1" height="1" fill="#c0c0c0"/>
<rect x="293" y="582" width="1" height="5" fill="#c0c0c0"/>
<rect x="301" y="582" width="1" height="7" fill="#c0c0c0"/>
<rect x="309" y="582" width="1" height="11" fill="#c0c0c0"/>
<rect x="317" y="582" width="1" height="13" fill="#c0c0c0"/>
<rect x="325" y="582" width="1" height="17" fill="#c0c0c0"/>
<rect x="333" y="582" width="1" height="18" fill="#c0c0c0"/>
<rect x="341" y="582" width="1" height="25" fill="#c0c0c0"/>
<rect x="349" y="582" width="1" height="30" fill="#c0c0c0"/>
<rect x="357" y="582" width="1" height="34" fill="#c0c0c0"/>
<rect x="365" y="582" width="1" height="37" fill="#c0c0c0"/>
<rect x="373" y="582" width="1" height="39" fill="#c0c0c0"/>
<rect x="381" y="582" width="1" height="44" fill="#c0c0c0"/>
<rect x="389" y="582" width="1" height="44" fill="#c0c0c0"/>
<rect x="397" y="582" width="1" height="43" fill="#c0c0c0"/>
<rect x="405" y="582" width="1" height="42" fill="#c0c0c0"/>
<rect x="413" y="582" width="1" height="40" fill="#c0c0c0"/>
<rect x="421" y="582" width="1" height="41" fill="#c0c0c0"/>
<rect x="429" y="582" width="1" height="41" fill="#c0c0c0"/>
<rect x="437" y="582" width="1" height="32" fill="#c0c0c0"/>
<rect x="445" y="582" width="1" height="31" fill="#c0c0c0"/>
<rect x="453" y="582" width="1" height="31" fill="#c0c0c0"/>
<rect x="461" y="582" width="1" height="30" fill="#c0c0c0"/>
<rect x="469" y="582" width="1" height="31" fill="#c0c0c0"/>
<rect x="477" y="582" width="1" height="32" fill="#c0c0c0"/>
<rect x="485" y="582" width="1" height="34" fill="#c0c0c0"/>
<rect x="493" y="582" width="1" height="40" fill="#c0c0c0"/>
<rect x="501" y="582" width="1" height="44" fill="#c0c0c0"/>
<rect x="509" y="582" width="1" height="47" fill="#c0c0c0"/>
<rect x="517" y="582" width="1" height="54" fill="#c0c0c0"/>
<rect x="525" y="582" width="1" height="61" fill="#c0c0c0"/>
<rect x="533" y="582" width="1" height="68" fill="#c0c0c0"/>
<rect x="541" y="582" width="1" height="74" fill="#c0c0c0"/>
<rect x="549" y="582" width="1" height="69" fill="#c0c0c0"/>
<rect x="557" y="582" width="1" height="64" fill="#c0c0c0"/>
<rect x="565" y="582" width="1" height="62" fill="#c0c0c0"/>
<rect x="573" y="582" width="1" height="52" fill="#c0c0c0"/>
<rect x="581" y="582" width="1" height="44" fill="#c0c0c0"/>
<rect x="589" y="582" width="1" height="42" fill="#c0c0c0"/>
<rect x="597" y="582" width="1" height="41" fill="#c0c0c0"/>
<rect x="605" y="582" width="1" height="42" fill="#c0c0c0"/>
<rect x="613" y="582" width="1" height="49" fill="#c0c0c0"/>
<rect x="621" y="582" width="1" height="51" fill="#c0c0c0"/>
<rect x="629" y="582" width="1" height="50" fill="#c0c0c0"/>
<rect x="637" y="582" width="1" height="47" fill="#c0c0c0"/>
<rect x="645" y="582" width="1" height="49" fill="#c0c0c0"/>
<rect x="653" y="582" width="1" height="47" fill="#c0c0c0"/>
<rect x="661" y="582" width="1" height="42" fill="#c0c0c0"/>
<rect x="669" y="582" width="1" height="44" fill="#c0c0c0"/>
<rect x="677" y="582" width="1" height="46" fill="#c0c0c0"/>
<rect x="685" y="582" width="1" height="47" fill="#c0c0c0"/>
<rect x="693" y="582" width="1" height="47" fill="#c0c0c0"/>
<rect x="701" y="582" width="1" height="47" fill="#c0c0c0"/>
<rect x="709" y="582" width="1" height="44" fill="#c0c0c0"/>
<rect x="717" y="582" width="1" height="49" fill="#c0c0c0"/>
<rect x="725" y="582" width="1" height="49" fill="#c0c0c0"/>
<rect x="733" y="582" width="1" height="48" fill="#c0c0c0"/>
<rect x="741" y="582" width="1" height="45" fill="#c0c0c0"/>
<rect x="749" y="582" width="1" height="41" fill="#c0c0c0"/>
<rect x="757" y="582" width="1" height="40" fill="#c0c0c0"/>
<rect x="765" y="582" width="1" height="39" fill="#c0c0c0"/>
<rect x="773" y="582" width="1" height="32" fill="#c0c0c0"/>
<rect x="781" y="582" width="1" height="27" fill="#c0c0c0"/>
<rect x="789" y="582" width="1" height="27" fill="#c0c0c0"/>
<rect x="797" y="582" width="1" height="30" fill="#c0c0c0"/>
<rect x="805" y="582" width="1" height="34" fill="#c0c0c0"/>
<rect x="813" y="582" width="1" height="41" fill="#c0c0c0"/>
<rect x="821" y="582" width="1" height="45" fill="#c0c0c0"/>
<rect x="829" y="582" width="1" height="48" fill="#c0c0c0"/>
<rect x="837" y="582" width="1" height="49" fill="#c0c0c0"/>
<rect x="845" y="582" width="1" height="50" fill="#c0c0c0"/>
<rect x="853" y="582" width="1" height="49" fill="#c0c0c0"/>
<rect x="861" y="582" width="1" height="47" fill="#c0c0c0"/>
<rect x="869" y="582" width="1" height="42" fill="#c0c0c0"/>
<rect x="877" y="582" width="1" height="36" fill="#c0c0c0"/>
<rect x="885" y="582" width="1" height="30" fill="#c0c0c0"/>
<rect x="893" y="582" width="1" height="22" fill="#c0c0c0"/>
<rect x="901" y="582" width="1" height="14" fill="#c0c0c0"/>
<rect x="909" y="582" width="1" height="7" fill="#c0c0c0"/>
<rect x="917" y="582" width="1" height="3" fill="#c0c0c0"/>
<rect x="925" y="581" width="1" height="1" fill="#c0c0c0"/>
<rect x="933" y="579" width="1" height="3" fill="#c0c0c0"/>
<rect x="941" y="575" width="1" height="7" fill="#c0c0c0"/>
<rect x="949" y="572" width="1" height="10" fill="#c0c0c0"/>
<rect x="957" y="569" width="1" height="13" fill="#c0c0c0"/>
<rect x="965" y="568" width="1" height="14" fill="#c0c0c0"/>
<rect x="973" y="569" width="1" height="13" fill="#c0c0c0"/>
<rect x="981" y="570" width="1" height="12" fill="#c0c0c0"/>
<rect x="989" y="562" width="1" height="20" fill="#c0c0c0"/>
<rect x="997" y="555" width="1" height="27" fill="#c0c0c0"/>
<rect x="1005" y="549" width="1" height="33" fill="#c0c0c0"/>
<rect x="1013" y="547" width="1" height="35" fill="#c0c0c0"/>
<rect x="1021" y="547" width="1" height="35" fill="#c0c0c0"/>
<rect x="1029" y="549" width="1" height="33" fill="#c0c0c0"/>
<rect x="1037" y="551" width="1" height="31" fill="#c0c0c0"/>
<rect x="1045" y="554" width="1" height="28" fill="#c0c0c0"/>
<rect x="1053" y="555" width="1" height="27" fill="#c0c0c0"/>
<rect x="1061" y="559" width="1" height="23" fill="#c0c0c0"/>
<rect x="1069" y="561" width="1" height="21" fill="#c0c0c0"/>
<rect x="1077" y="563" width="1" height="19" fill="#c0c0c0"/>
<rect x="1085" y="564" width="1" height="18" fill="#c0c0c0"/>
<rect x="1093" y="562" width="1" height="20" fill="#c0c0c0"/>
<rect x="1101" y="559" width="1" height="23" fill="#c0c0c0"/>
<rect x="1109" y="557" width="1" height="25" fill="#c0c0c0"/>
<rect x="1117" y="555" width="1" height="27" fill="#c0c0c0"/>
<rect x="1125" y="554" width="1" height="28" fill="#c0c0c0"/>
<rect x="1133" y="555" width="1" height="27" fill="#c0c0c0"/>
<rect x="1141" y="556" width="1" height="26" fill="#c0c0c0"/>
<rect x="1149" y="557" width="1" height="25" fill="#c0c0c0"/>
<rect x="1157" y="561" width="1" height="21" fill="#c0c0c0"/>
<rect x="1165" y="566" width="1" height="16" fill="#c0c0c0"/>
<rect x="1173" y="571" width="1" height="11" fill="#c0c0c0"/>
<rect x="1181" y="575" width="1" height="7" fill="#c0c0c0"/>
<rect x="1189" y="579" width="1" height="3" fill="#c0c0c0"/>
<rect x="1205" y="582" width="1" height="3" fill="#c0c0c0"/>
<rect x="1213" y="582" width="1" height="4" fill="#c0c0c0"/>
<rect x="1221" y="582" width="1" height="4" fill="#c0c0c0"/>
<rect x="1229" y="582" width="1" height="4" fill="#c0c0c0"/>
<rect x="1237" y="582" width="1" height="4" fill="#c0c0c0"/>
<rect x="1245" y="582" width="1" height="4" fill="#c0c0c0"/>
<rect x="1253" y="582" width="1" height="3" fill="#c0c0c0"/>
<rect x="1261" y="582" width="1" height="4" fill="#c0c0c0"/>
<rect x="1269" y="582" width="1" height="4" fill="#c0c0c0"/>
<rect x="1277" y="582" width="1" height="4" fill="#c0c0c0"/>
<rect x="1285" y="582" width="1" height="4" fill="#c0c0c0"/>
<rect x="1293" y="582" width="1" height="4" fill="#c0c0c0"/>
<rect x="1301" y="582" width="1" height="4" fill="#c0c0c0"/>
<rect x="1309" y="582" width="1" height="4" fill="#c0c0c0"/>
<rect x="1317" y="581" width="1" height="1" fill="#c0c0c0"/>
<rect x="1325" y="580" width="1" height="2" fill="#c0c0c0"/>
<rect x="1333" y="577" width="1" height="5" fill="#c0c0c0"/>
<rect x="1341" y="574" width="1" height="8" fill="#c0c0c0"/>
<rect x="1349" y="569" width="1" height="13" fill="#c0c0c0"/>
<rect x="1357" y="565" width="1" height="17" fill="#c0c0c0"/>
<rect x="1365" y="564" width="1" height="18" fill="#c0c0c0"/>
<rect x="1373" y="559" width="1" height="23" fill="#c0c0c0"/>
<rect x="1381" y="555" width="1" height="27" fill="#c0c0c0"/>
<rect x="1389" y="552" width="1" height="30" fill="#c0c0c0"/>
<rect x="1397" y="554" width="1" height="28" fill="#c0c0c0"/>
<rect x="1405" y="555" width="1" height="27" fill="#c0c0c0"/>
<rect x="1413" y="557" width="1" height="25" fill="#c0c0c0"/>
<rect x="1421" y="558" width="1" height="24" fill="#c0c0c0"/>
<rect x="1429" y="559" width="1" height="23" fill="#c0c0c0"/>
<rect x="1437" y="557" width="1" height="25" fill="#c0c0c0"/>
<rect x="1445" y="555" width="1" height="27" fill="#c0c0c0"/>
<rect x="1453" y="554" width="1" height="28" fill="#c0c0c0"/>
<rect x="1461" y="552" width="1" height="30" fill="#c0c0c0"/>
<rect x="1469" y="551" width="1" height="31" fill="#c0c0c0"/>
<rect x="1477" y="552" width="1" height="30" fill="#c0c0c0"/>
<rect x="1485" y="550" width="1" height="32" fill="#c0c0c0"/>
<rect x="1493" y="549" width="1" height="33" fill="#c0c0c0"/>
<rect x="1501" y="549" width="1" height="33" fill="#c0c0c0"/>
<rect x="1509" y="550" width="1" height="32" fill="#c0c0c0"/>
<rect x="1517" y="552" width="1" height="30" fill="#c0c0c0"/>
<rect x="1525" y="555" width="1" height="27" fill="#c0c0c0"/>
<rect x="1533" y="556" width="1" height="26" fill="#c0c0c0"/>
<rect x="1541" y="559" width="1" height="23" fill="#c0c0c0"/>
<rect x="1549" y="560" width="1" height="22" fill="#c0c0c0"/>
<rect x="1557" y="560" width="1" height="22" fill="#c0c0c0"/>
<rect x="1565" y="559" width="1" height="23" fill="#c0c0c0"/>
<rect x="1573" y="558" width="1" height="24" fill="#c0c0c0"/>
<rect x="1581" y="558" width="1" height="24" fill="#c0c0c0"/>
<rect x="1589" y="557" width="1" height="25" fill="#c0c0c0"/>
<rect x="1597" y="557" width="1" height="25" fill="#c0c0c0"/>
<rect x="1605" y="557" width="1" height="25" fill="#c0c0c0"/>
<rect x="1613" y="557" width="1" height="25" fill="#c0c0c0"/>
<rect x="1621" y="559" width="1" height="23" fill="#c0c0c0"/>
<rect x="1629" y="561" width="1" height="21" fill="#c0c0c0"/>
<rect x="1637" y="564" width="1" height="18" fill="#c0c0c0"/>
<rect x="1645" y="566" width="1" height="16" fill="#c0c0c0"/>
<rect x="1653" y="569" width="1" height="13" fill="#c0c0c0"/>
<rect x="1661" y="572" width="1" height="10" fill="#c0c0c0"/>
<polyline points="5.5,617.6 10.4,618.0 15.2,618.7 20.1,619.4 25.0,620.1 29.0,620.6 33.0,621.0 37.0,621.5 41.0,622.0 45.0,622.6 50.0,623.9 55.0,625.4 60.0,626.9 64.4,628.0 68.8,629.1 73.2,630.2 77.6,631.2 82.6,632.4 87.7,633.6 92.7,634.4 97.7,634.9 102.7,635.2 107.7,635.2 111.9,635.0 116.0,634.7 120.2,634.2 124.4,633.7 128.5,633.1 132.7,632.2 137.7,630.2 142.7,627.7 146.9,625.9 151.1,623.9 155.3,621.9 160.3,619.0 165.3,616.1 170.3,613.1 175.3,610.1 179.5,608.2 183.6,606.4 187.8,604.4 192.2,602.6 196.6,600.7 201.0,598.7 205.4,596.9 209.4,595.6 213.4,594.4 217.4,593.2 221.4,592.1 225.4,591.1 229.4,590.2 233.4,589.4 237.4,588.7 241.4,588.0 245.4,587.3 249.4,586.6 253.4,585.8 257.5,585.1 261.5,584.4 265.5,583.8 270.5,583.1 275.5,582.5 280.5,582.1 285.5,581.7 290.5,581.5 295.5,581.6 300.5,582.1 305.5,582.9 310.5,583.8 315.5,584.8 320.6,586.0 325.6,587.3 330.6,588.6 335.6,590.1 340.6,591.8 345.6,594.0 350.6,596.5 355.6,598.9 360.6,601.0 365.6,603.0 370.6,605.1 375.6,607.4 380.7,609.7 385.7,611.9 389.9,614.0 394.0,615.9 398.2,617.6 403.2,619.1 408.2,620.4 413.2,621.4 417.9,622.0 422.6,622.4 427.3,622.7 432.0,622.6 436.2,622.3 440.3,621.9 444.5,621.3 448.7,620.6 452.8,620.0 457.0,619.4 461.2,618.8 465.3,618.2 469.5,617.6 473.7,617.0 477.8,616.5 482.0,616.1 486.2,615.6 490.4,615.3 494.6,615.4 498.7,615.9 502.9,616.6 507.0,617.6 511.2,618.6 515.5,619.9 519.7,621.4 523.9,623.5 528.0,625.9 532.2,628.2 536.4,630.3 540.5,632.3 544.7,634.4 548.9,636.8 553.0,639.2 557.2,641.2 561.4,642.5 565.5,643.3 569.7,643.9 573.9,644.3 578.1,644.4 582.3,644.2 586.5,643.5 590.6,642.5 594.8,641.2 599.0,639.7 603.1,638.0 607.3,636.4 611.5,635.0 615.6,633.7 619.8,632.4 624.8,631.0 629.9,629.7 634.9,628.7 639.4,628.4 643.9,628.3 648.4,628.3 652.9,628.3 657.4,628.4 661.6,628.5 665.7,628.6 669.9,628.8 674.1,629.0 678.2,629.1 682.4,629.2 686.6,629.1 690.8,629.0 695.0,628.8 699.1,628.6 703.3,628.4 707.5,628.4 711.7,628.5 715.8,628.7 720.0,629.0 724.2,629.2 728.3,629.4 732.5,629.4 736.7,629.3 740.9,629.0 745.0,628.7 749.2,628.4 753.4,628.0 757.6,627.7 762.6,627.2 767.6,626.6 772.6,625.7 777.6,624.3 782.6,622.6 787.6,621.1 792.6,620.1 797.6,619.3 802.6,618.6 807.6,618.0 812.7,617.6 817.7,617.4 822.7,617.5 827.7,618.0 832.7,618.6 837.7,619.5 842.7,620.6 847.7,621.9 851.8,623.1 855.9,624.4 859.9,625.7 864.0,626.6 868.2,627.1 872.3,627.1 876.5,626.9 880.7,626.5 884.8,625.9 889.0,624.9 893.2,623.6 897.4,622.0 901.6,620.1 905.8,618.0 909.9,615.6 914.1,613.1 918.3,610.6 922.4,608.0 926.6,605.1 930.8,601.9 934.9,598.4 939.1,595.1 943.3,592.2 947.5,589.4 951.7,586.8 955.9,584.1 960.0,581.5 964.2,579.3 968.4,577.5 972.5,576.1 976.7,574.8 980.9,573.8 985.0,573.0 989.2,571.8 993.4,569.9 997.5,567.6 1001.7,565.5 1005.9,563.9 1010.1,562.6 1014.3,561.3 1018.5,560.0 1022.6,558.7 1026.8,557.5 1031.0,556.5 1035.1,555.7 1039.3,554.8 1043.5,553.7 1047.6,552.6 1051.8,551.8 1056.0,551.4 1060.2,551.2 1064.4,551.3 1068.6,551.5 1072.7,551.9 1076.9,552.5 1081.1,553.6 1085.2,554.9 1089.4,556.0 1093.6,556.6 1097.7,557.0 1101.9,557.3 1106.1,557.8 1110.2,558.3 1114.4,558.5 1118.6,558.5 1122.8,558.3 1127.0,558.1 1131.1,557.9 1135.3,557.7 1139.5,557.5 1143.9,557.2 1148.2,556.8 1152.6,556.4 1157.0,556.3 1161.2,556.4 1165.3,556.7 1169.5,557.3 1173.7,558.2 1177.8,559.3 1182.0,560.5 1186.2,561.9 1190.4,563.5 1194.6,565.0 1198.8,566.4 1202.9,567.7 1207.1,569.3 1211.3,571.3 1215.4,573.5 1219.6,575.6 1223.8,577.4 1227.9,579.1 1232.1,580.6 1236.3,581.8 1240.5,582.9 1244.7,583.8 1248.7,584.4 1252.7,584.9 1256.7,585.4 1260.7,585.9 1264.7,586.3 1269.2,586.5 1273.6,586.7 1278.1,586.9 1282.6,587.0 1287.1,587.1 1291.5,587.2 1296.0,587.3 1300.0,587.5 1304.0,587.5 1308.0,587.3 1313.0,586.8 1318.0,586.0 1323.0,585.1 1327.2,584.6 1331.4,584.1 1335.5,583.6 1339.7,583.1 1343.9,582.5 1348.1,581.8 1352.3,580.3 1356.4,578.5 1360.6,576.8 1364.8,575.1 1368.9,573.5 1373.1,571.8 1377.3,570.1 1381.5,568.5 1385.7,566.8 1389.9,565.1 1394.0,563.4 1398.2,561.8 1403.2,560.2 1408.2,558.6 1413.2,557.3 1417.2,556.8 1421.2,556.4 1425.2,556.0 1429.2,555.8 1433.2,555.5 1437.2,555.2 1441.2,554.9 1445.3,554.7 1449.3,554.5 1453.3,554.3 1457.3,554.3 1461.3,554.3 1465.3,554.4 1469.3,554.4 1473.3,554.3 1477.3,554.0 1481.3,553.7 1485.4,553.2 1489.4,552.8 1493.4,552.3 1497.6,551.9 1501.7,551.4 1505.9,550.9 1510.1,550.5 1514.2,550.2 1518.4,550.0 1522.4,550.0 1526.4,550.2 1530.4,550.5 1534.4,550.9 1538.4,551.3 1542.4,551.8 1546.4,552.4 1550.5,553.1 1554.5,553.7 1558.5,554.3 1562.5,554.9 1566.5,555.4 1570.5,555.9 1574.5,556.4 1578.5,556.8 1583.5,557.3 1588.5,557.7 1593.5,558.0 1597.7,558.1 1601.9,558.1 1606.0,558.0 1610.2,558.0 1614.4,558.0 1618.6,558.0 1622.8,558.0 1626.9,558.1 1631.1,558.1 1635.3,558.2 1639.4,558.3 1643.6,558.5 1648.6,559.4 1653.6,560.5 1658.6,561.8" fill="none" stroke="#ff0000" stroke-width="1" stroke-dasharray="3 3"/>
<text class="ax" x="1684" y="549.8">66.0117</text>
<text class="ax" x="1684" y="586.0">0.00</text>
<text class="ax" x="1684" y="659.8">-126.173</text>
<rect x="1681" y="541" width="1" height="1" fill="#000"/>
<rect x="1681" y="662" width="1" height="1" fill="#000"/><rect x="1681" y="667" width="1" height="1" fill="#000"/>
<text class="info" x="9" y="678">RSI(14) 49.8649</text>
<line x1="5" y1="697.5" x2="1680" y2="697.5" stroke="#c0c0c0" stroke-dasharray="3 3"/>
<line x1="5" y1="739.5" x2="1680" y2="739.5" stroke="#c0c0c0" stroke-dasharray="3 3"/>
<path d="M5 743v1M6 743v1M7 743v1M8 743v1M9 744v1M10 744v1M11 744v1M12 744v1M13 744v1M14 744v1M15 745v1M16 745v1M17 746v1M18 746v1M19 746v1M20 747v1M21 747v1M22 747v1M23 747v1M24 748v1M25 748v1M26 748v1M27 748v1M28 748v1M29 749v1M30 749v1M31 750v1M32 750v1M33 751v1M34 751v1M35 751v1M36 752v1M37 752v1M38 753v1M39 753v1M40 753v1M41 753v1M42 753v1M43 753v1M44 754v1M45 754v1M46 754v1M47 754v1M48 754v1M49 754v1M50 754v1M51 755v1M52 755v1M53 755v1M54 755v1M55 755v1M56 755v1M57 755v1M58 755v1M59 755v1M60 755v1M61 755v1M62 755v1M63 755v1M64 755v1M65 756v1M66 756v1M67 756v1M68 756v1M69 756v1M70 756v1M71 755v1M72 754v1M73 754v1M74 753v1M75 752v1M76 752v1M77 751v1M78 749v2M79 748v1M80 746v2M81 744v2M82 742v2M83 740v2M84 739v1M85 737v2M86 737v1M87 738v1M88 738v1M89 739v1M90 740v1M91 740v1M92 741v1M93 741v1M94 740v1M95 738v2M96 737v1M97 736v1M98 734v2M99 733v1M100 732v1M101 730v2M102 730v1M103 729v1M104 728v1M105 727v1M106 727v1M107 726v1M108 725v1M109 724v1M110 725v2M111 727v1M112 728v1M113 729v2M114 731v1M115 732v1M116 733v2M117 735v1M118 734v1M119 732v2M120 731v1M121 729v2M122 728v1M123 727v1M124 725v2M125 724v1M126 724v1M127 724v1M128 724v1M129 723v1M130 723v1M131 723v1M132 723v1M133 723v1M134 722v1M135 721v1M136 719v2M137 718v1M138 717v1M139 716v1M140 715v1M141 714v1M142 714v1M143 714v1M144 714v1M145 714v1M146 714v1M147 714v1M148 714v1M149 714v1M150 714v1M151 714v1M152 714v1M153 714v1M154 715v1M155 715v1M156 715v1M157 715v1M158 715v1M159 715v1M160 715v1M161 714v1M162 714v1M163 714v1M164 714v1M165 714v1M166 714v1M167 713v1M168 713v1M169 713v1M170 712v1M171 712v1M172 712v1M173 712v1M174 713v1M175 714v1M176 715v1M177 716v2M178 718v1M179 719v1M180 720v1M181 721v2M182 722v1M183 722v1M184 723v1M185 723v1M186 723v1M187 723v1M188 724v1M189 724v1M190 723v1M191 723v1M192 722v1M193 722v1M194 721v1M195 720v1M196 720v1M197 719v1M198 719v1M199 719v1M200 719v1M201 718v1M202 718v1M203 718v1M204 718v1M205 718v1M206 717v1M207 717v1M208 717v1M209 717v1M210 716v1M211 716v1M212 716v1M213 716v1M214 716v1M215 716v1M216 717v1M217 717v1M218 717v1M219 717v1M220 718v1M221 718v1M222 717v1M223 717v1M224 716v1M225 715v1M226 715v1M227 714v1M228 714v1M229 713v1M230 713v1M231 712v1M232 712v1M233 712v1M234 712v1M235 711v1M236 711v1M237 711v1M238 711v1M239 711v1M240 712v1M241 712v1M242 713v1M243 713v1M244 713v1M245 714v1M246 714v1M247 714v1M248 714v1M249 714v1M250 714v1M251 714v1M252 714v1M253 714v1M254 714v1M255 715v1M256 715v1M257 716v1M258 716v1M259 716v1M260 717v1M261 717v1M262 717v1M263 717v1M264 718v1M265 718v1M266 718v1M267 718v1M268 718v1M269 718v1M270 719v1M271 719v1M272 720v1M273 720v1M274 721v1M275 722v1M276 722v1M277 723v1M278 723v1M279 723v1M280 723v1M281 722v1M282 722v1M283 722v1M284 722v1M285 722v1M286 723v1M287 723v1M288 724v1M289 725v1M290 726v1M291 726v1M292 727v1M293 728v1M294 728v1M295 728v1M296 727v1M297 727v1M298 727v1M299 727v1M300 727v1M301 727v1M302 727v1M303 728v1M304 729v1M305 729v1M306 730v1M307 730v1M308 731v1M309 732v1M310 731v1M311 731v1M312 730v1M313 730v1M314 729v1M315 729v1M316 728v1M317 728v1M318 729v1M319 729v1M320 730v1M321 731v1M322 732v1M323 733v1M324 733v1M325 734v1M326 733v1M327 732v1M328 731v1M329 729v2M330 728v1M331 727v1M332 726v1M333 725v1M334 726v1M335 727v2M336 729v1M337 730v1M338 731v2M339 733v1M340 734v1M341 735v2M342 736v1M343 736v1M344 736v1M345 736v1M346 737v1M347 737v1M348 737v1M349 737v1M350 737v1M351 737v1M352 737v1M353 737v1M354 737v1M355 737v1M356 737v1M357 737v1M358 737v1M359 737v1M360 737v1M361 737v1M362 737v1M363 737v1M364 737v1M365 737v1M366 737v1M367 737v1M368 737v1M369 737v1M370 737v1M371 736v1M372 736v1M373 736v1M374 737v1M375 738v1M376 738v1M377 739v1M378 740v1M379 740v1M380 741v1M381 742v1M382 741v1M383 740v1M384 738v2M385 737v1M386 736v1M387 735v1M388 734v1M389 732v2M390 732v1M391 732v1M392 732v1M393 731v1M394 731v1M395 731v1M396 730v1M397 730v1M398 730v1M399 730v1M400 730v1M401 730v1M402 730v1M403 730v1M404 730v1M405 730v1M406 729v1M407 729v1M408 728v1M409 727v1M410 727v1M411 726v1M412 725v1M413 725v1M414 726v1M415 727v1M416 728v1M417 729v1M418 730v2M419 732v1M420 733v1M421 734v1M422 732v2M423 731v1M424 729v2M425 727v2M426 725v2M427 723v2M428 722v1M429 720v2M430 720v1M431 721v1M432 721v1M433 722v1M434 722v1M435 723v1M436 723v1M437 724v1M438 724v1M439 724v1M440 724v1M441 724v1M442 724v1M443 725v1M444 725v1M445 725v1M446 725v1M447 725v1M448 725v1M449 725v1M450 725v1M451 725v1M452 725v1M453 725v1M454 725v1M455 725v1M456 726v1M457 726v1M458 726v1M459 726v1M460 726v1M461 727v1M462 727v1M463 727v1M464 727v1M465 727v1M466 728v1M467 728v1M468 728v1M469 728v1M470 728v1M471 729v1M472 729v1M473 729v1M474 730v1M475 730v1M476 730v1M477 731v1M478 731v1M479 731v1M480 731v1M481 731v1M482 731v1M483 731v1M484 731v1M485 731v1M486 732v1M487 733v1M488 734v1M489 735v1M490 736v1M491 736v1M492 737v1M493 738v1M494 738v1M495 738v1M496 738v1M497 738v1M498 737v1M499 737v1M500 737v1M501 737v1M502 737v1M503 737v1M504 738v1M505 738v1M506 738v1M507 738v1M508 738v1M509 739v1M510 739v1M511 740v1M512 740v1M513 741v1M514 741v1M515 742v1M516 742v1M517 743v1M518 743v1M519 744v1M520 744v1M521 744v1M522 745v1M523 745v1M524 745v1M525 746v1M526 746v1M527 746v1M528 746v1M529 746v1M530 746v1M531 747v1M532 747v1M533 747v1M534 747v1M535 747v1M536 748v1M537 748v1M538 748v1M539 748v1M540 748v1M541 749v1M542 746v3M543 743v3M544 741v2M545 738v3M546 735v3M547 733v2M548 730v3M549 727v3M550 727v1M551 727v1M552 727v1M553 727v1M554 727v1M555 726v1M556 726v1M557 726v1M558 727v1M559 727v1M560 728v1M561 728v1M562 729v1M563 729v1M564 730v1M565 731v1M566 729v2M567 727v2M568 725v2M569 724v1M570 722v2M571 720v2M572 719v1M573 717v2M574 717v1M575 717v1M576 717v1M577 717v1M578 717v1M579 717v1M580 717v1M581 717v1M582 718v1M583 719v1M584 720v1M585 721v1M586 722v1M587 722v1M588 723v1M589 724v1M590 724v1M591 724v1M592 724v1M593 724v1M594 724v1M595 724v1M596 724v1M597 724v1M598 725v1M599 725v1M600 725v1M601 726v1M602 726v1M603 726v1M604 727v1M605 727v1M606 728v1M607 729v1M608 729v1M609 730v1M610 731v1M611 732v1M612 733v1M613 734v1M614 733v1M615 733v1M616 732v1M617 731v1M618 731v1M619 730v1M620 730v1M621 729v1M622 729v1M623 728v1M624 728v1M625 727v1M626 727v1M627 727v1M628 726v1M629 726v1M630 725v1M631 725v1M632 725v1M633 725v1M634 725v1M635 725v1M636 725v1M637 725v1M638 725v1M639 726v1M640 727v1M641 727v1M642 728v1M643 729v1M644 729v1M645 730v1M646 729v1M647 728v1M648 727v1M649 726v1M650 726v1M651 725v1M652 724v1M653 723v1M654 723v1M655 723v1M656 723v1M657 723v1M658 722v1M659 722v1M660 722v1M661 722v1M662 723v1M663 724v1M664 724v1M665 725v1M666 726v1M667 726v1M668 727v1M669 728v1M670 728v1M671 728v1M672 728v1M673 728v1M674 728v1M675 729v1M676 729v1M677 729v1M678 729v1M679 729v1M680 729v1M681 729v1M682 729v1M683 729v1M684 729v1M685 729v1M686 729v1M687 729v1M688 729v1M689 729v1M690 729v1M691 729v1M692 729v1M693 729v1M694 729v1M695 729v1M696 729v1M697 729v1M698 729v1M699 729v1M700 729v1M701 729v1M702 728v1M703 727v1M704 727v1M705 726v1M706 726v1M707 725v1M708 724v1M709 724v1M710 725v1M711 726v1M712 727v2M713 729v1M714 730v1M715 731v1M716 732v2M717 734v1M718 733v1M719 732v1M720 731v1M721 730v1M722 729v1M723 729v1M724 728v1M725 727v1M726 727v1M727 727v1M728 728v1M729 728v1M730 728v1M731 728v1M732 729v1M733 729v1M734 728v1M735 727v1M736 727v1M737 726v1M738 725v1M739 725v1M740 724v1M741 723v1M742 723v1M743 723v1M744 723v1M745 723v1M746 723v1M747 723v1M748 723v1M749 723v1M750 723v1M751 724v1M752 724v1M753 725v1M754 725v1M755 725v1M756 726v1M757 726v1M758 726v1M759 726v1M760 726v1M761 725v1M762 725v1M763 725v1M764 725v1M765 725v1M766 724v1M767 723v1M768 722v1M769 721v1M770 720v1M771 719v1M772 719v1M773 718v1M774 718v1M775 718v1M776 718v1M777 718v1M778 718v1M779 719v1M780 719v1M781 719v1M782 719v1M783 720v1M784 720v1M785 721v1M786 722v1M787 722v1M788 723v1M789 723v1M790 724v1M791 725v1M792 725v1M793 726v1M794 727v1M795 727v1M796 728v1M797 729v1M798 729v1M799 729v1M800 729v1M801 729v1M802 729v1M803 729v1M804 729v1M805 729v1M806 730v1M807 730v1M808 731v1M809 732v1M810 732v1M811 733v1M812 733v1M813 734v1M814 734v1M815 734v1M816 734v1M817 734v1M818 734v1M819 734v1M820 734v1M821 734v1M822 734v1M823 734v1M824 733v1M825 733v1M826 733v1M827 733v1M828 733v1M829 733v1M830 732v1M831 732v1M832 732v1M833 732v1M834 732v1M835 732v1M836 732v1M837 732v1M838 732v1M839 732v1M840 732v1M841 732v1M842 732v1M843 733v1M844 733v1M845 733v1M846 733v1M847 732v1M848 732v1M849 732v1M850 731v1M851 731v1M852 731v1M853 730v1M854 730v1M855 729v1M856 729v1M857 728v1M858 727v1M859 727v1M860 726v1M861 726v1M862 725v1M863 725v1M864 725v1M865 724v1M866 724v1M867 724v1M868 723v1M869 723v1M870 723v1M871 722v1M872 722v1M873 721v1M874 721v1M875 720v1M876 720v1M877 720v1M878 720v1M879 719v1M880 719v1M881 719v1M882 719v1M883 719v1M884 719v1M885 719v1M886 718v1M887 717v1M888 716v1M889 715v1M890 714v1M891 713v1M892 712v1M893 712v1M894 711v1M895 711v1M896 711v1M897 710v1M898 710v1M899 710v1M900 709v1M901 709v1M902 709v1M903 709v1M904 709v1M905 710v1M906 710v1M907 710v1M908 710v1M909 711v1M910 711v1M911 711v1M912 711v1M913 711v1M914 711v1M915 712v1M916 712v1M917 712v1M918 711v1M919 711v1M920 710v1M921 709v1M922 709v1M923 708v1M924 708v1M925 707v1M926 708v1M927 709v1M928 710v1M929 710v1M930 711v1M931 712v1M932 713v1M933 714v1M934 713v1M935 713v1M936 712v1M937 712v1M938 711v1M939 711v1M940 711v1M941 710v1M942 710v1M943 710v1M944 710v1M945 709v1M946 709v1M947 709v1M948 709v1M949 709v1M950 709v1M951 709v1M952 709v1M953 709v1M954 709v1M955 709v1M956 709v1M957 709v1M958 709v1M959 709v1M960 709v1M961 710v1M962 710v1M963 710v1M964 710v1M965 711v1M966 711v1M967 712v1M968 712v1M969 713v1M970 713v1M971 714v1M972 714v1M973 715v1M974 715v1M975 715v1M976 715v1M977 715v1M978 715v1M979 715v1M980 715v1M981 715v1M982 713v2M983 711v2M984 709v2M985 708v1M986 706v2M987 704v2M988 702v2M989 701v1M990 700v1M991 700v1M992 700v1M993 700v1M994 699v1M995 699v1M996 699v1M997 699v1M998 699v1M999 698v1M1000 698v1M1001 698v1M1002 698v1M1003 698v1M1004 698v1M1005 698v1M1006 698v1M1007 699v1M1008 700v1M1009 701v1M1010 702v1M1011 703v1M1012 704v1M1013 705v1M1014 705v1M1015 705v1M1016 705v1M1017 705v1M1018 706v1M1019 706v1M1020 706v1M1021 706v1M1022 707v1M1023 707v1M1024 708v1M1025 708v1M1026 709v1M1027 709v1M1028 710v1M1029 711v1M1030 711v1M1031 711v1M1032 711v1M1033 711v1M1034 711v1M1035 712v1M1036 712v1M1037 712v1M1038 712v1M1039 712v1M1040 711v1M1041 711v1M1042 711v1M1043 711v1M1044 711v1M1045 711v1M1046 711v1M1047 711v1M1048 711v1M1049 711v1M1050 711v1M1051 712v1M1052 712v1M1053 712v1M1054 712v1M1055 713v1M1056 714v1M1057 714v1M1058 715v1M1059 716v1M1060 716v1M1061 717v1M1062 716v1M1063 716v1M1064 716v1M1065 715v1M1066 715v1M1067 715v1M1068 714v1M1069 714v1M1070 714v1M1071 714v1M1072 715v1M1073 715v1M1074 715v1M1075 716v1M1076 716v1M1077 716v1M1078 716v1M1079 715v1M1080 714v1M1081 714v1M1082 713v1M1083 713v1M1084 712v1M1085 712v1M1086 711v1M1087 710v1M1088 709v1M1089 709v1M1090 708v1M1091 707v1M1092 706v1M1093 706v1M1094 705v1M1095 705v1M1096 705v1M1097 705v1M1098 704v1M1099 704v1M1100 704v1M1101 704v1M1102 704v1M1103 704v1M1104 704v1M1105 704v1M1106 704v1M1107 704v1M1108 704v1M1109 704v1M1110 704v1M1111 704v1M1112 704v1M1113 704v1M1114 704v1M1115 704v1M1116 704v1M1117 704v1M1118 703v1M1119 703v1M1120 703v1M1121 703v1M1122 703v1M1123 703v1M1124 703v1M1125 703v1M1126 703v1M1127 704v1M1128 704v1M1129 705v1M1130 705v1M1131 706v1M1132 706v1M1133 707v1M1134 707v1M1135 706v1M1136 706v1M1137 706v1M1138 706v1M1139 705v1M1140 705v1M1141 705v1M1142 706v1M1143 707v1M1144 708v1M1145 709v1M1146 710v1M1147 711v1M1148 712v1M1149 713v1M1150 714v1M1151 714v1M1152 715v1M1153 715v1M1154 716v1M1155 716v1M1156 717v1M1157 718v1M1158 718v1M1159 718v1M1160 718v1M1161 718v1M1162 719v1M1163 719v1M1164 719v1M1165 719v1M1166 720v1M1167 720v1M1168 721v1M1169 721v1M1170 722v1M1171 722v1M1172 723v1M1173 724v1M1174 724v1M1175 724v1M1176 724v1M1177 724v1M1178 724v1M1179 725v1M1180 725v1M1181 725v1M1182 725v1M1183 725v1M1184 725v1M1185 725v1M1186 725v1M1187 725v1M1188 725v1M1189 725v1M1190 725v1M1191 726v1M1192 726v1M1193 727v1M1194 728v1M1195 728v1M1196 729v1M1197 729v1M1198 729v1M1199 728v1M1200 728v1M1201 727v1M1202 727v1M1203 726v1M1204 726v1M1205 726v1M1206 725v1M1207 725v1M1208 725v1M1209 725v1M1210 724v1M1211 724v1M1212 724v1M1213 724v1M1214 723v1M1215 723v1M1216 723v1M1217 723v1M1218 723v1M1219 722v1M1220 722v1M1221 722v1M1222 722v1M1223 722v1M1224 721v1M1225 721v1M1226 721v1M1227 721v1M1228 721v1M1229 721v1M1230 721v1M1231 721v1M1232 720v1M1233 720v1M1234 720v1M1235 720v1M1236 720v1M1237 720v1M1238 720v1M1239 719v1M1240 719v1M1241 719v1M1242 718v1M1243 718v1M1244 718v1M1245 718v1M1246 718v1M1247 718v1M1248 718v1M1249 719v1M1250 719v1M1251 719v1M1252 720v1M1253 720v1M1254 720v1M1255 720v1M1256 721v1M1257 721v1M1258 721v1M1259 721v1M1260 722v1M1261 722v1M1262 722v1M1263 722v1M1264 721v1M1265 721v1M1266 721v1M1267 721v1M1268 721v1M1269 721v1M1270 720v1M1271 719v1M1272 719v1M1273 718v1M1274 717v1M1275 716v1M1276 716v1M1277 715v1M1278 716v1M1279 717v1M1280 718v1M1281 719v1M1282 720v1M1283 721v2M1284 723v1M1285 724v1M1286 724v1M1287 724v1M1288 724v1M1289 724v1M1290 724v1M1291 724v1M1292 724v1M1293 724v1M1294 724v1M1295 724v1M1296 723v1M1297 723v1M1298 723v1M1299 723v1M1300 723v1M1301 723v1M1302 722v1M1303 721v1M1304 720v1M1305 719v1M1306 718v1M1307 717v1M1308 716v1M1309 715v1M1310 714v1M1311 713v1M1312 712v1M1313 711v1M1314 710v1M1315 709v1M1316 708v1M1317 707v1M1318 706v1M1319 706v1M1320 706v1M1321 706v1M1322 705v1M1323 705v1M1324 705v1M1325 705v1M1326 705v1M1327 705v1M1328 705v1M1329 706v1M1330 706v1M1331 706v1M1332 706v1M1333 707v1M1334 706v1M1335 706v1M1336 705v1M1337 704v1M1338 704v1M1339 703v1M1340 703v1M1341 702v1M1342 702v1M1343 701v1M1344 700v1M1345 700v1M1346 699v1M1347 698v1M1348 698v1M1349 697v1M1350 697v1M1351 697v1M1352 697v1M1353 696v1M1354 696v1M1355 696v1M1356 696v1M1357 696v1M1358 697v1M1359 698v1M1360 699v1M1361 700v1M1362 701v1M1363 702v1M1364 703v1M1365 704v1M1366 703v1M1367 702v1M1368 701v1M1369 700v1M1370 699v1M1371 698v1M1372 697v1M1373 696v1M1374 696v1M1375 696v1M1376 695v1M1377 695v1M1378 695v1M1379 695v1M1380 695v1M1381 695v1M1382 695v1M1383 695v1M1384 695v1M1385 695v1M1386 695v1M1387 696v1M1388 696v1M1389 696v1M1390 697v1M1391 698v2M1392 700v2M1393 702v1M1394 703v2M1395 705v2M1396 707v1M1397 708v2M1398 709v1M1399 709v1M1400 709v1M1401 709v1M1402 709v1M1403 709v1M1404 709v1M1405 709v1M1406 709v1M1407 709v1M1408 709v1M1409 709v1M1410 709v1M1411 710v1M1412 710v1M1413 710v1M1414 710v1M1415 709v1M1416 709v1M1417 709v1M1418 709v1M1419 708v1M1420 708v1M1421 708v1M1422 708v1M1423 708v1M1424 707v1M1425 707v1M1426 707v1M1427 707v1M1428 707v1M1429 707v1M1430 706v1M1431 705v1M1432 705v1M1433 704v1M1434 704v1M1435 703v1M1436 702v1M1437 702v1M1438 701v1M1439 701v1M1440 700v1M1441 700v1M1442 699v1M1443 699v1M1444 698v1M1445 698v1M1446 698v1M1447 698v1M1448 698v1M1449 698v1M1450 698v1M1451 698v1M1452 698v1M1453 698v1M1454 698v1M1455 699v1M1456 699v1M1457 699v1M1458 700v1M1459 700v1M1460 701v1M1461 701v1M1462 701v1M1463 700v1M1464 699v1M1465 699v1M1466 698v1M1467 698v1M1468 697v1M1469 697v1M1470 698v1M1471 699v2M1472 701v1M1473 702v1M1474 703v2M1475 705v1M1476 706v1M1477 707v2M1478 707v1M1479 706v1M1480 705v1M1481 704v1M1482 703v1M1483 702v1M1484 701v1M1485 700v1M1486 700v1M1487 701v1M1488 701v1M1489 701v1M1490 701v1M1491 701v1M1492 702v1M1493 702v1M1494 702v1M1495 702v1M1496 702v1M1497 701v1M1498 701v1M1499 701v1M1500 701v1M1501 701v1M1502 702v1M1503 703v1M1504 704v1M1505 705v1M1506 706v1M1507 707v1M1508 708v1M1509 709v1M1510 709v1M1511 709v1M1512 709v1M1513 709v1M1514 709v1M1515 710v1M1516 710v1M1517 710v1M1518 710v1M1519 710v1M1520 710v1M1521 710v1M1522 710v1M1523 710v1M1524 710v1M1525 710v1M1526 709v1M1527 709v1M1528 708v1M1529 708v1M1530 707v1M1531 707v1M1532 706v1M1533 706v1M1534 707v1M1535 707v1M1536 708v1M1537 709v1M1538 710v1M1539 710v1M1540 711v1M1541 712v1M1542 712v1M1543 711v1M1544 711v1M1545 711v1M1546 711v1M1547 710v1M1548 710v1M1549 710v1M1550 710v1M1551 709v1M1552 709v1M1553 709v1M1554 709v1M1555 708v1M1556 708v1M1557 708v1M1558 707v1M1559 707v1M1560 706v1M1561 706v1M1562 705v1M1563 705v1M1564 704v1M1565 704v1M1566 704v1M1567 704v1M1568 704v1M1569 705v1M1570 705v1M1571 705v1M1572 706v1M1573 706v1M1574 706v1M1575 706v1M1576 705v1M1577 705v1M1578 705v1M1579 705v1M1580 705v1M1581 705v1M1582 705v1M1583 704v1M1584 704v1M1585 704v1M1586 704v1M1587 703v1M1588 703v1M1589 703v1M1590 702v1M1591 702v1M1592 702v1M1593 701v1M1594 701v1M1595 701v1M1596 700v1M1597 700v1M1598 700v1M1599 700v1M1600 700v1M1601 701v1M1602 701v1M1603 701v1M1604 701v1M1605 701v1M1606 701v1M1607 701v1M1608 701v1M1609 701v1M1610 702v1M1611 702v1M1612 702v1M1613 702v1M1614 703v1M1615 704v1M1616 704v1M1617 705v1M1618 706v1M1619 707v1M1620 708v1M1621 709v1M1622 709v1M1623 709v1M1624 710v1M1625 710v1M1626 710v1M1627 710v1M1628 711v1M1629 711v1M1630 712v1M1631 713v1M1632 713v1M1633 714v1M1634 715v1M1635 716v1M1636 717v1M1637 718v1M1638 717v1M1639 717v1M1640 717v1M1641 716v1M1642 716v1M1643 716v1M1644 715v1M1645 715v1M1646 715v1M1647 716v1M1648 716v1M1649 717v1M1650 718v1M1651 718v1M1652 719v1M1653 719v1M1654 719v1M1655 719v1M1656 719v1M1657 718v1M1658 718v1M1659 718v1M1660 718v1M1661 718v1" fill="none" stroke="#1e90ff" stroke-width="1" transform="translate(0.5,0)"/>
<text class="ax" x="1684" y="675.5">100</text>
<text class="ax" x="1684" y="700.5">70</text>
<text class="ax" x="1684" y="742.5">30</text>
<text class="ax" x="1684" y="766.5">0</text>
<rect x="5" y="771" width="1" height="3" fill="#000"/>
<text class="tm" x="4" y="783.2">27 Feb 2020</text>
<rect x="69" y="771" width="1" height="3" fill="#000"/>
<text class="tm" x="68" y="783.2">28 Feb 12:00</text>
<rect x="133" y="771" width="1" height="3" fill="#000"/>
<text class="tm" x="132" y="783.2">2 Mar 16:00</text>
<rect x="197" y="771" width="1" height="3" fill="#000"/>
<text class="tm" x="196" y="783.2">4 Mar 00:00</text>
<rect x="261" y="771" width="1" height="3" fill="#000"/>
<text class="tm" x="260" y="783.2">5 Mar 08:00</text>
<rect x="325" y="771" width="1" height="3" fill="#000"/>
<text class="tm" x="324" y="783.2">6 Mar 16:00</text>
<rect x="389" y="771" width="1" height="3" fill="#000"/>
<text class="tm" x="388" y="783.2">9 Mar 20:00</text>
<rect x="453" y="771" width="1" height="3" fill="#000"/>
<text class="tm" x="452" y="783.2">11 Mar 04:00</text>
<rect x="517" y="771" width="1" height="3" fill="#000"/>
<text class="tm" x="516" y="783.2">12 Mar 12:00</text>
<rect x="581" y="771" width="1" height="3" fill="#000"/>
<text class="tm" x="580" y="783.2">13 Mar 20:00</text>
<rect x="645" y="771" width="1" height="3" fill="#000"/>
<text class="tm" x="644" y="783.2">17 Mar 08:00</text>
<rect x="709" y="771" width="1" height="3" fill="#000"/>
<text class="tm" x="708" y="783.2">18 Mar 20:00</text>
<rect x="773" y="771" width="1" height="3" fill="#000"/>
<text class="tm" x="772" y="783.2">20 Mar 04:00</text>
<rect x="837" y="771" width="1" height="3" fill="#000"/>
<text class="tm" x="836" y="783.2">23 Mar 08:00</text>
<rect x="901" y="771" width="1" height="3" fill="#000"/>
<text class="tm" x="900" y="783.2">24 Mar 16:00</text>
<rect x="965" y="771" width="1" height="3" fill="#000"/>
<text class="tm" x="964" y="783.2">26 Mar 00:00</text>
<rect x="1029" y="771" width="1" height="3" fill="#000"/>
<text class="tm" x="1028" y="783.2">27 Mar 08:00</text>
<rect x="1093" y="771" width="1" height="3" fill="#000"/>
<text class="tm" x="1092" y="783.2">30 Mar 12:00</text>
<rect x="1157" y="771" width="1" height="3" fill="#000"/>
<text class="tm" x="1156" y="783.2">31 Mar 20:00</text>
<rect x="1221" y="771" width="1" height="3" fill="#000"/>
<text class="tm" x="1220" y="783.2">2 Apr 04:00</text>
<rect x="1285" y="771" width="1" height="3" fill="#000"/>
<text class="tm" x="1284" y="783.2">3 Apr 12:00</text>
<rect x="1349" y="771" width="1" height="3" fill="#000"/>
<text class="tm" x="1348" y="783.2">6 Apr 16:00</text>
<rect x="1413" y="771" width="1" height="3" fill="#000"/>
<text class="tm" x="1412" y="783.2">8 Apr 00:00</text>
<rect x="1477" y="771" width="1" height="3" fill="#000"/>
<text class="tm" x="1476" y="783.2">9 Apr 08:00</text>
<rect x="1541" y="771" width="1" height="3" fill="#000"/>
<text class="tm" x="1540" y="783.2">13 Apr 12:00</text>
<rect x="1605" y="771" width="1" height="3" fill="#000"/>
<text class="tm" x="1604" y="783.2">14 Apr 20:00</text>
</svg></body></html>
